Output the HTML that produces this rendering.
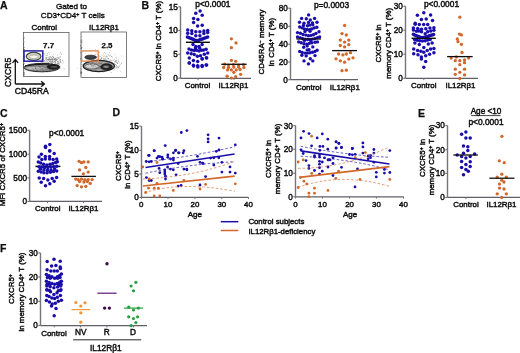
<!DOCTYPE html>
<html><head><meta charset="utf-8"><style>
html,body{margin:0;padding:0;background:#fff;width:520px;height:353px;overflow:hidden}
svg{display:block}
text{font-family:"Liberation Sans", sans-serif;fill:#111;stroke:#111;stroke-width:0.45px}
</style></head><body>
<svg width="520" height="353" viewBox="0 0 520 353">
<defs><filter id="soft" x="0" y="0" width="100%" height="100%"><feGaussianBlur stdDeviation="0.3"/></filter></defs>
<rect width="520" height="353" fill="#fff"/>
<g filter="url(#soft)">
<text x="0" y="8.5" font-size="10.5" text-anchor="start" font-weight="bold"  style="stroke-width:0.25px">A</text>
<text x="71.5" y="8.8" font-size="8.1" text-anchor="middle" font-weight="normal" style="stroke-width:0.4px">Gated to</text>
<text x="72.8" y="18.3" font-size="8.1" text-anchor="middle" font-weight="normal" style="stroke-width:0.4px">CD3<tspan font-size="65%" baseline-shift="45%">+</tspan>CD4<tspan font-size="65%" baseline-shift="45%">+</tspan> T cells</text>
<text x="44.3" y="30.4" font-size="7.9" text-anchor="middle" font-weight="normal" >Control</text>
<text x="104" y="30.4" font-size="7.9" text-anchor="middle" font-weight="normal" >IL12Rβ1</text>
<rect x="23.5" y="32.6" width="45.5" height="43.8" fill="none" stroke="#555" stroke-width="0.75"/>
<rect x="81" y="32" width="45.4" height="45.5" fill="none" stroke="#555" stroke-width="0.75"/>
<text x="48.6" y="47.7" font-size="7.9" text-anchor="middle" font-weight="bold"  style="stroke-width:0.25px">7.7</text>
<text x="107" y="47.7" font-size="7.9" text-anchor="middle" font-weight="bold"  style="stroke-width:0.25px">2.5</text>
<defs><filter id="bl" x="-20%" y="-20%" width="140%" height="140%"><feGaussianBlur stdDeviation="0.6"/></filter></defs>
<g filter="url(#bl)">
<circle cx="50.5" cy="64.5" r="0.4" fill="#444" opacity="0.6"/>
<circle cx="44.9" cy="63.7" r="0.4" fill="#444" opacity="0.6"/>
<circle cx="48.6" cy="59.7" r="0.4" fill="#444" opacity="0.6"/>
<circle cx="60.4" cy="61.0" r="0.4" fill="#444" opacity="0.6"/>
<circle cx="49.8" cy="62.8" r="0.4" fill="#444" opacity="0.6"/>
<circle cx="56.2" cy="60.4" r="0.4" fill="#444" opacity="0.6"/>
<circle cx="53.2" cy="57.4" r="0.4" fill="#444" opacity="0.6"/>
<circle cx="48.0" cy="59.1" r="0.4" fill="#444" opacity="0.6"/>
<circle cx="42.7" cy="55.7" r="0.4" fill="#444" opacity="0.6"/>
<circle cx="41.1" cy="59.7" r="0.4" fill="#444" opacity="0.6"/>
<circle cx="49.1" cy="59.5" r="0.4" fill="#444" opacity="0.6"/>
<circle cx="50.4" cy="56.2" r="0.4" fill="#444" opacity="0.6"/>
<circle cx="49.6" cy="61.3" r="0.4" fill="#444" opacity="0.6"/>
<circle cx="54.1" cy="57.8" r="0.4" fill="#444" opacity="0.6"/>
<circle cx="47.8" cy="54.1" r="0.4" fill="#444" opacity="0.6"/>
<circle cx="47.2" cy="53.5" r="0.4" fill="#444" opacity="0.6"/>
<circle cx="42.2" cy="64.0" r="0.4" fill="#444" opacity="0.6"/>
<circle cx="37.9" cy="63.1" r="0.4" fill="#444" opacity="0.6"/>
<circle cx="51.8" cy="59.5" r="0.4" fill="#444" opacity="0.6"/>
<circle cx="52.5" cy="62.2" r="0.4" fill="#444" opacity="0.6"/>
<circle cx="55.7" cy="59.8" r="0.4" fill="#444" opacity="0.6"/>
<circle cx="46.7" cy="58.6" r="0.4" fill="#444" opacity="0.6"/>
<circle cx="44.6" cy="60.4" r="0.4" fill="#444" opacity="0.6"/>
<circle cx="45.7" cy="63.9" r="0.4" fill="#444" opacity="0.6"/>
<circle cx="39.7" cy="57.0" r="0.4" fill="#444" opacity="0.6"/>
<circle cx="44.8" cy="53.8" r="0.4" fill="#444" opacity="0.6"/>
<circle cx="60.5" cy="52.8" r="0.4" fill="#444" opacity="0.6"/>
<circle cx="48.4" cy="58.8" r="0.4" fill="#444" opacity="0.6"/>
<circle cx="59.1" cy="54.1" r="0.4" fill="#444" opacity="0.6"/>
<circle cx="55.9" cy="58.2" r="0.4" fill="#444" opacity="0.6"/>
<circle cx="49.1" cy="58.4" r="0.4" fill="#444" opacity="0.6"/>
<circle cx="53.5" cy="56.9" r="0.4" fill="#444" opacity="0.6"/>
<circle cx="49.6" cy="61.6" r="0.4" fill="#444" opacity="0.6"/>
<circle cx="60.1" cy="52.8" r="0.4" fill="#444" opacity="0.6"/>
<circle cx="58.4" cy="63.5" r="0.4" fill="#444" opacity="0.6"/>
<circle cx="47.3" cy="61.5" r="0.4" fill="#444" opacity="0.6"/>
<circle cx="47.4" cy="65.8" r="0.4" fill="#444" opacity="0.6"/>
<circle cx="51.2" cy="59.8" r="0.4" fill="#444" opacity="0.6"/>
<circle cx="48.7" cy="59.9" r="0.4" fill="#444" opacity="0.6"/>
<circle cx="49.0" cy="57.7" r="0.4" fill="#444" opacity="0.6"/>
<circle cx="61.3" cy="54.4" r="0.4" fill="#444" opacity="0.6"/>
<circle cx="30.2" cy="60.1" r="0.4" fill="#444" opacity="0.6"/>
<circle cx="49.2" cy="61.7" r="0.4" fill="#444" opacity="0.6"/>
<circle cx="48.9" cy="60.0" r="0.4" fill="#444" opacity="0.6"/>
<circle cx="51.8" cy="63.6" r="0.4" fill="#444" opacity="0.6"/>
<circle cx="47.5" cy="59.3" r="0.4" fill="#444" opacity="0.6"/>
<circle cx="60.7" cy="62.2" r="0.4" fill="#444" opacity="0.6"/>
<circle cx="44.6" cy="67.9" r="0.4" fill="#444" opacity="0.6"/>
<circle cx="54.3" cy="58.6" r="0.4" fill="#444" opacity="0.6"/>
<circle cx="43.5" cy="61.5" r="0.4" fill="#444" opacity="0.6"/>
<circle cx="45.4" cy="57.1" r="0.4" fill="#444" opacity="0.6"/>
<circle cx="42.9" cy="58.9" r="0.4" fill="#444" opacity="0.6"/>
<circle cx="56.1" cy="59.1" r="0.4" fill="#444" opacity="0.6"/>
<circle cx="42.0" cy="62.6" r="0.4" fill="#444" opacity="0.6"/>
<circle cx="50.4" cy="63.2" r="0.4" fill="#444" opacity="0.6"/>
<circle cx="56.6" cy="60.0" r="0.4" fill="#444" opacity="0.6"/>
<circle cx="49.2" cy="60.4" r="0.4" fill="#444" opacity="0.6"/>
<circle cx="43.8" cy="62.6" r="0.4" fill="#444" opacity="0.6"/>
<circle cx="57.5" cy="61.1" r="0.4" fill="#444" opacity="0.6"/>
<circle cx="48.7" cy="59.7" r="0.4" fill="#444" opacity="0.6"/>
<circle cx="45.7" cy="57.9" r="0.4" fill="#444" opacity="0.6"/>
<circle cx="47.8" cy="57.8" r="0.4" fill="#444" opacity="0.6"/>
<circle cx="47.6" cy="55.5" r="0.4" fill="#444" opacity="0.6"/>
<circle cx="51.9" cy="60.7" r="0.4" fill="#444" opacity="0.6"/>
<circle cx="43.7" cy="53.1" r="0.4" fill="#444" opacity="0.6"/>
<circle cx="50.0" cy="64.0" r="0.4" fill="#444" opacity="0.6"/>
<circle cx="46.0" cy="59.0" r="0.4" fill="#444" opacity="0.6"/>
<circle cx="46.9" cy="62.6" r="0.4" fill="#444" opacity="0.6"/>
<circle cx="45.0" cy="63.7" r="0.4" fill="#444" opacity="0.6"/>
<circle cx="48.3" cy="63.5" r="0.4" fill="#444" opacity="0.6"/>
<circle cx="50.2" cy="59.8" r="0.4" fill="#444" opacity="0.6"/>
<circle cx="41.9" cy="58.3" r="0.4" fill="#444" opacity="0.6"/>
<circle cx="48.6" cy="62.6" r="0.4" fill="#444" opacity="0.6"/>
<circle cx="51.3" cy="58.3" r="0.4" fill="#444" opacity="0.6"/>
<circle cx="52.3" cy="63.7" r="0.4" fill="#444" opacity="0.6"/>
<circle cx="49.2" cy="59.1" r="0.4" fill="#444" opacity="0.6"/>
<circle cx="47.8" cy="63.1" r="0.4" fill="#444" opacity="0.6"/>
<circle cx="53.0" cy="57.5" r="0.4" fill="#444" opacity="0.6"/>
<circle cx="52.1" cy="59.0" r="0.4" fill="#444" opacity="0.6"/>
<circle cx="45.9" cy="64.5" r="0.4" fill="#444" opacity="0.6"/>
<circle cx="54.5" cy="58.2" r="0.4" fill="#444" opacity="0.6"/>
<circle cx="50.4" cy="62.1" r="0.4" fill="#444" opacity="0.6"/>
<circle cx="46.5" cy="60.1" r="0.4" fill="#444" opacity="0.6"/>
<circle cx="53.7" cy="54.8" r="0.4" fill="#444" opacity="0.6"/>
<circle cx="51.8" cy="62.9" r="0.4" fill="#444" opacity="0.6"/>
<circle cx="52.8" cy="56.2" r="0.4" fill="#444" opacity="0.6"/>
<circle cx="51.8" cy="57.7" r="0.4" fill="#444" opacity="0.6"/>
<circle cx="53.1" cy="62.4" r="0.4" fill="#444" opacity="0.6"/>
<circle cx="51.2" cy="58.1" r="0.4" fill="#444" opacity="0.6"/>
<circle cx="46.7" cy="63.2" r="0.4" fill="#444" opacity="0.6"/>
<circle cx="45.1" cy="62.1" r="0.4" fill="#444" opacity="0.6"/>
<circle cx="52.8" cy="59.6" r="0.4" fill="#444" opacity="0.6"/>
<circle cx="63.2" cy="60.7" r="0.4" fill="#444" opacity="0.6"/>
<circle cx="61.8" cy="54.0" r="0.4" fill="#444" opacity="0.6"/>
<circle cx="37.7" cy="63.6" r="0.4" fill="#444" opacity="0.6"/>
<circle cx="53.5" cy="59.5" r="0.4" fill="#444" opacity="0.6"/>
<circle cx="49.7" cy="54.4" r="0.4" fill="#444" opacity="0.6"/>
<circle cx="46.5" cy="57.2" r="0.4" fill="#444" opacity="0.6"/>
<circle cx="48.8" cy="63.3" r="0.4" fill="#444" opacity="0.6"/>
<circle cx="50.3" cy="61.7" r="0.4" fill="#444" opacity="0.6"/>
<circle cx="46.2" cy="59.1" r="0.4" fill="#444" opacity="0.6"/>
<circle cx="50.6" cy="59.6" r="0.4" fill="#444" opacity="0.6"/>
<circle cx="57.0" cy="57.7" r="0.4" fill="#444" opacity="0.6"/>
<circle cx="60.4" cy="57.4" r="0.4" fill="#444" opacity="0.6"/>
<circle cx="55.8" cy="58.0" r="0.4" fill="#444" opacity="0.6"/>
<circle cx="59.1" cy="60.9" r="0.4" fill="#444" opacity="0.6"/>
<circle cx="52.2" cy="62.9" r="0.4" fill="#444" opacity="0.6"/>
<circle cx="46.5" cy="57.2" r="0.4" fill="#444" opacity="0.6"/>
<circle cx="38.9" cy="64.4" r="0.4" fill="#444" opacity="0.6"/>
<circle cx="46.2" cy="58.6" r="0.4" fill="#444" opacity="0.6"/>
<circle cx="49.8" cy="66.9" r="0.4" fill="#444" opacity="0.6"/>
<circle cx="40.5" cy="61.3" r="0.4" fill="#444" opacity="0.6"/>
<circle cx="47.8" cy="62.2" r="0.4" fill="#444" opacity="0.6"/>
<circle cx="40.1" cy="59.2" r="0.4" fill="#444" opacity="0.6"/>
<circle cx="54.6" cy="65.5" r="0.4" fill="#444" opacity="0.6"/>
<circle cx="58.8" cy="57.8" r="0.4" fill="#444" opacity="0.6"/>
<circle cx="50.3" cy="60.1" r="0.4" fill="#444" opacity="0.6"/>
<circle cx="42.4" cy="55.9" r="0.4" fill="#444" opacity="0.6"/>
<circle cx="54.2" cy="61.3" r="0.4" fill="#444" opacity="0.6"/>
<circle cx="49.2" cy="64.4" r="0.4" fill="#444" opacity="0.6"/>
<circle cx="44.5" cy="62.2" r="0.4" fill="#444" opacity="0.6"/>
<circle cx="50.1" cy="60.3" r="0.4" fill="#444" opacity="0.6"/>
<circle cx="52.7" cy="61.1" r="0.4" fill="#444" opacity="0.6"/>
<circle cx="51.5" cy="61.3" r="0.4" fill="#444" opacity="0.6"/>
<circle cx="60.7" cy="59.5" r="0.4" fill="#444" opacity="0.6"/>
<circle cx="55.6" cy="62.4" r="0.4" fill="#444" opacity="0.6"/>
<circle cx="48.1" cy="63.0" r="0.4" fill="#444" opacity="0.6"/>
<circle cx="45.3" cy="64.2" r="0.4" fill="#444" opacity="0.6"/>
<circle cx="45.5" cy="58.9" r="0.4" fill="#444" opacity="0.6"/>
<circle cx="51.8" cy="63.2" r="0.4" fill="#444" opacity="0.6"/>
<circle cx="55.0" cy="63.4" r="0.4" fill="#444" opacity="0.6"/>
<circle cx="48.9" cy="57.4" r="0.4" fill="#444" opacity="0.6"/>
<circle cx="53.0" cy="61.5" r="0.4" fill="#444" opacity="0.6"/>
<circle cx="44.8" cy="63.6" r="0.4" fill="#444" opacity="0.6"/>
<circle cx="51.1" cy="57.4" r="0.4" fill="#444" opacity="0.6"/>
<circle cx="52.4" cy="56.3" r="0.4" fill="#444" opacity="0.6"/>
<circle cx="45.2" cy="61.8" r="0.4" fill="#444" opacity="0.6"/>
<circle cx="41.4" cy="60.6" r="0.4" fill="#444" opacity="0.6"/>
<circle cx="42.6" cy="62.9" r="0.4" fill="#444" opacity="0.6"/>
<circle cx="46.0" cy="61.1" r="0.4" fill="#444" opacity="0.6"/>
<circle cx="41.7" cy="59.4" r="0.4" fill="#444" opacity="0.6"/>
<circle cx="55.2" cy="62.0" r="0.4" fill="#444" opacity="0.6"/>
<circle cx="39.9" cy="63.5" r="0.4" fill="#444" opacity="0.6"/>
<circle cx="54.9" cy="59.3" r="0.4" fill="#444" opacity="0.6"/>
<circle cx="57.8" cy="57.1" r="0.4" fill="#444" opacity="0.6"/>
<circle cx="49.5" cy="64.1" r="0.4" fill="#444" opacity="0.6"/>
<circle cx="57.2" cy="64.6" r="0.4" fill="#444" opacity="0.6"/>
<circle cx="44.0" cy="54.8" r="0.4" fill="#444" opacity="0.6"/>
<circle cx="52.2" cy="55.9" r="0.4" fill="#444" opacity="0.6"/>
<circle cx="49.3" cy="56.4" r="0.4" fill="#444" opacity="0.6"/>
<circle cx="55.8" cy="63.1" r="0.4" fill="#444" opacity="0.6"/>
<circle cx="53.1" cy="60.6" r="0.4" fill="#444" opacity="0.6"/>
<circle cx="50.3" cy="59.5" r="0.4" fill="#444" opacity="0.6"/>
<circle cx="52.1" cy="61.3" r="0.4" fill="#444" opacity="0.6"/>
<circle cx="52.5" cy="59.1" r="0.4" fill="#444" opacity="0.6"/>
<circle cx="60.4" cy="61.4" r="0.4" fill="#444" opacity="0.6"/>
<circle cx="57.7" cy="64.8" r="0.4" fill="#444" opacity="0.6"/>
<circle cx="45.2" cy="55.1" r="0.4" fill="#444" opacity="0.6"/>
<circle cx="56.9" cy="59.3" r="0.4" fill="#444" opacity="0.6"/>
<circle cx="50.5" cy="59.7" r="0.4" fill="#444" opacity="0.6"/>
<circle cx="50.7" cy="56.7" r="0.4" fill="#444" opacity="0.6"/>
<circle cx="49.4" cy="59.0" r="0.4" fill="#444" opacity="0.6"/>
<circle cx="49.9" cy="53.0" r="0.4" fill="#444" opacity="0.6"/>
<circle cx="54.5" cy="61.6" r="0.4" fill="#444" opacity="0.6"/>
<circle cx="40.5" cy="58.2" r="0.4" fill="#444" opacity="0.6"/>
<circle cx="50.2" cy="62.5" r="0.4" fill="#444" opacity="0.6"/>
<circle cx="50.0" cy="64.9" r="0.4" fill="#444" opacity="0.6"/>
<circle cx="50.1" cy="57.3" r="0.4" fill="#444" opacity="0.6"/>
<circle cx="46.3" cy="62.9" r="0.4" fill="#444" opacity="0.6"/>
<circle cx="46.6" cy="63.2" r="0.4" fill="#444" opacity="0.6"/>
<circle cx="55.6" cy="62.4" r="0.4" fill="#444" opacity="0.6"/>
<circle cx="55.6" cy="59.9" r="0.4" fill="#444" opacity="0.6"/>
<circle cx="49.9" cy="58.6" r="0.4" fill="#444" opacity="0.6"/>
<circle cx="46.6" cy="55.5" r="0.4" fill="#444" opacity="0.6"/>
<circle cx="46.9" cy="57.1" r="0.4" fill="#444" opacity="0.6"/>
<circle cx="42.1" cy="61.0" r="0.4" fill="#444" opacity="0.6"/>
<circle cx="52.5" cy="59.4" r="0.4" fill="#444" opacity="0.6"/>
<circle cx="57.5" cy="63.5" r="0.4" fill="#444" opacity="0.6"/>
<circle cx="55.7" cy="58.6" r="0.4" fill="#444" opacity="0.6"/>
<circle cx="41.8" cy="62.3" r="0.4" fill="#444" opacity="0.6"/>
<circle cx="51.7" cy="62.8" r="0.4" fill="#444" opacity="0.6"/>
<circle cx="52.3" cy="64.5" r="0.4" fill="#444" opacity="0.6"/>
<circle cx="48.4" cy="62.6" r="0.4" fill="#444" opacity="0.6"/>
<circle cx="45.1" cy="53.1" r="0.4" fill="#444" opacity="0.6"/>
<circle cx="47.6" cy="65.3" r="0.4" fill="#444" opacity="0.6"/>
<circle cx="40.8" cy="63.8" r="0.4" fill="#444" opacity="0.6"/>
<circle cx="46.3" cy="59.2" r="0.4" fill="#444" opacity="0.6"/>
<circle cx="50.2" cy="61.2" r="0.4" fill="#444" opacity="0.6"/>
<circle cx="44.6" cy="60.9" r="0.4" fill="#444" opacity="0.6"/>
<circle cx="52.4" cy="63.2" r="0.4" fill="#444" opacity="0.6"/>
<circle cx="45.9" cy="65.5" r="0.4" fill="#444" opacity="0.6"/>
<circle cx="60.5" cy="68.2" r="0.4" fill="#444" opacity="0.6"/>
<circle cx="42.6" cy="61.1" r="0.4" fill="#444" opacity="0.6"/>
<circle cx="39.8" cy="61.7" r="0.4" fill="#444" opacity="0.6"/>
<circle cx="53.1" cy="56.8" r="0.4" fill="#444" opacity="0.6"/>
<circle cx="41.3" cy="61.1" r="0.4" fill="#444" opacity="0.6"/>
<circle cx="53.5" cy="58.0" r="0.4" fill="#444" opacity="0.6"/>
<circle cx="48.6" cy="52.4" r="0.4" fill="#444" opacity="0.6"/>
<circle cx="46.1" cy="61.0" r="0.4" fill="#444" opacity="0.6"/>
<circle cx="50.8" cy="65.6" r="0.4" fill="#444" opacity="0.6"/>
<circle cx="43.7" cy="53.3" r="0.4" fill="#444" opacity="0.6"/>
<circle cx="52.5" cy="58.6" r="0.4" fill="#444" opacity="0.6"/>
<circle cx="51.6" cy="62.8" r="0.4" fill="#444" opacity="0.6"/>
<circle cx="53.3" cy="65.1" r="0.4" fill="#444" opacity="0.6"/>
<circle cx="57.4" cy="55.2" r="0.4" fill="#444" opacity="0.6"/>
<circle cx="49.7" cy="66.9" r="0.4" fill="#444" opacity="0.6"/>
<circle cx="47.8" cy="63.6" r="0.4" fill="#444" opacity="0.6"/>
<circle cx="49.7" cy="59.2" r="0.4" fill="#444" opacity="0.6"/>
<circle cx="58.7" cy="63.8" r="0.4" fill="#444" opacity="0.6"/>
<circle cx="48.7" cy="63.4" r="0.4" fill="#444" opacity="0.6"/>
<circle cx="42.8" cy="58.2" r="0.4" fill="#444" opacity="0.6"/>
<circle cx="55.0" cy="60.6" r="0.4" fill="#444" opacity="0.6"/>
<circle cx="44.2" cy="61.9" r="0.4" fill="#444" opacity="0.6"/>
<circle cx="51.8" cy="64.6" r="0.4" fill="#444" opacity="0.6"/>
<circle cx="55.3" cy="59.6" r="0.4" fill="#444" opacity="0.6"/>
<circle cx="47.3" cy="60.1" r="0.4" fill="#444" opacity="0.6"/>
<circle cx="48.7" cy="65.2" r="0.4" fill="#444" opacity="0.6"/>
<circle cx="58.7" cy="64.8" r="0.4" fill="#444" opacity="0.6"/>
<circle cx="52.1" cy="59.7" r="0.4" fill="#444" opacity="0.6"/>
<circle cx="55.0" cy="59.4" r="0.4" fill="#444" opacity="0.6"/>
<circle cx="57.9" cy="57.8" r="0.4" fill="#444" opacity="0.6"/>
<circle cx="55.3" cy="65.6" r="0.4" fill="#444" opacity="0.6"/>
<circle cx="52.9" cy="58.3" r="0.4" fill="#444" opacity="0.6"/>
<circle cx="56.3" cy="66.2" r="0.4" fill="#444" opacity="0.6"/>
<circle cx="62.8" cy="61.1" r="0.4" fill="#444" opacity="0.6"/>
<circle cx="55.1" cy="61.7" r="0.4" fill="#444" opacity="0.6"/>
<circle cx="53.3" cy="62.1" r="0.4" fill="#444" opacity="0.6"/>
<circle cx="55.8" cy="58.3" r="0.4" fill="#444" opacity="0.6"/>
<circle cx="54.7" cy="61.4" r="0.4" fill="#444" opacity="0.6"/>
<circle cx="53.6" cy="59.2" r="0.4" fill="#444" opacity="0.6"/>
<circle cx="60.6" cy="66.7" r="0.4" fill="#444" opacity="0.6"/>
<circle cx="55.9" cy="60.9" r="0.4" fill="#444" opacity="0.6"/>
<circle cx="59.0" cy="61.4" r="0.4" fill="#444" opacity="0.6"/>
<circle cx="53.9" cy="65.5" r="0.4" fill="#444" opacity="0.6"/>
<circle cx="52.8" cy="60.2" r="0.4" fill="#444" opacity="0.6"/>
<circle cx="54.3" cy="59.8" r="0.4" fill="#444" opacity="0.6"/>
<circle cx="56.0" cy="63.4" r="0.4" fill="#444" opacity="0.6"/>
<circle cx="62.8" cy="63.7" r="0.4" fill="#444" opacity="0.6"/>
<circle cx="57.1" cy="58.9" r="0.4" fill="#444" opacity="0.6"/>
<circle cx="56.8" cy="59.6" r="0.4" fill="#444" opacity="0.6"/>
<circle cx="56.6" cy="64.4" r="0.4" fill="#444" opacity="0.6"/>
<circle cx="57.8" cy="61.5" r="0.4" fill="#444" opacity="0.6"/>
<circle cx="54.0" cy="61.9" r="0.4" fill="#444" opacity="0.6"/>
<circle cx="57.4" cy="59.7" r="0.4" fill="#444" opacity="0.6"/>
<circle cx="55.0" cy="64.2" r="0.4" fill="#444" opacity="0.6"/>
<circle cx="50.4" cy="60.9" r="0.4" fill="#444" opacity="0.6"/>
<circle cx="52.3" cy="65.9" r="0.4" fill="#444" opacity="0.6"/>
<circle cx="59.4" cy="63.3" r="0.4" fill="#444" opacity="0.6"/>
<circle cx="58.6" cy="62.7" r="0.4" fill="#444" opacity="0.6"/>
<circle cx="58.2" cy="58.0" r="0.4" fill="#444" opacity="0.6"/>
<circle cx="58.0" cy="63.5" r="0.4" fill="#444" opacity="0.6"/>
<circle cx="51.3" cy="64.1" r="0.4" fill="#444" opacity="0.6"/>
<circle cx="59.7" cy="58.2" r="0.4" fill="#444" opacity="0.6"/>
<circle cx="55.1" cy="61.2" r="0.4" fill="#444" opacity="0.6"/>
<circle cx="54.9" cy="63.0" r="0.4" fill="#444" opacity="0.6"/>
<circle cx="51.9" cy="61.4" r="0.4" fill="#444" opacity="0.6"/>
<circle cx="57.9" cy="63.8" r="0.4" fill="#444" opacity="0.6"/>
<circle cx="57.2" cy="61.4" r="0.4" fill="#444" opacity="0.6"/>
<circle cx="59.8" cy="57.0" r="0.4" fill="#444" opacity="0.6"/>
<circle cx="60.7" cy="61.2" r="0.4" fill="#444" opacity="0.6"/>
<circle cx="52.0" cy="60.9" r="0.4" fill="#444" opacity="0.6"/>
<circle cx="49.7" cy="56.9" r="0.4" fill="#444" opacity="0.6"/>
<circle cx="55.7" cy="60.1" r="0.4" fill="#444" opacity="0.6"/>
<circle cx="59.9" cy="59.8" r="0.4" fill="#444" opacity="0.6"/>
<circle cx="51.8" cy="59.6" r="0.4" fill="#444" opacity="0.6"/>
<circle cx="63.9" cy="62.1" r="0.4" fill="#444" opacity="0.6"/>
<circle cx="54.6" cy="59.5" r="0.4" fill="#444" opacity="0.6"/>
<circle cx="52.6" cy="61.6" r="0.4" fill="#444" opacity="0.6"/>
<circle cx="58.7" cy="64.9" r="0.4" fill="#444" opacity="0.6"/>
<circle cx="61.6" cy="62.7" r="0.4" fill="#444" opacity="0.6"/>
<circle cx="54.4" cy="59.8" r="0.4" fill="#444" opacity="0.6"/>
<circle cx="47.7" cy="59.5" r="0.4" fill="#444" opacity="0.6"/>
<circle cx="58.7" cy="61.2" r="0.4" fill="#444" opacity="0.6"/>
<circle cx="58.5" cy="58.6" r="0.4" fill="#444" opacity="0.6"/>
<circle cx="60.6" cy="62.7" r="0.4" fill="#444" opacity="0.6"/>
<circle cx="57.2" cy="63.0" r="0.4" fill="#444" opacity="0.6"/>
<circle cx="48.1" cy="60.6" r="0.4" fill="#444" opacity="0.6"/>
<circle cx="53.4" cy="66.5" r="0.4" fill="#444" opacity="0.6"/>
<circle cx="56.3" cy="60.7" r="0.4" fill="#444" opacity="0.6"/>
<circle cx="60.4" cy="59.4" r="0.4" fill="#444" opacity="0.6"/>
<circle cx="62.7" cy="60.2" r="0.4" fill="#444" opacity="0.6"/>
<circle cx="56.8" cy="59.7" r="0.4" fill="#444" opacity="0.6"/>
<circle cx="60.2" cy="56.6" r="0.4" fill="#444" opacity="0.6"/>
<circle cx="59.8" cy="60.0" r="0.4" fill="#444" opacity="0.6"/>
<circle cx="57.2" cy="59.1" r="0.4" fill="#444" opacity="0.6"/>
<circle cx="57.9" cy="62.5" r="0.4" fill="#444" opacity="0.6"/>
<circle cx="59.4" cy="62.8" r="0.4" fill="#444" opacity="0.6"/>
<circle cx="59.5" cy="64.5" r="0.4" fill="#444" opacity="0.6"/>
<circle cx="55.4" cy="59.1" r="0.4" fill="#444" opacity="0.6"/>
<circle cx="51.9" cy="63.7" r="0.4" fill="#444" opacity="0.6"/>
<ellipse cx="41.8" cy="67.6" rx="17.9" ry="4.2" fill="#8a8a8a" stroke="#2a2a2a" stroke-width="1"/>
<path d="M25,65.8 Q38,63.6 49,64.2" stroke="#1a1a1a" stroke-width="1.2" fill="none"/>
<ellipse cx="36" cy="68.3" rx="10.5" ry="1.5" fill="#bdbdbd"/>
<ellipse cx="53.3" cy="66.8" rx="6.6" ry="2.9" fill="#1a1a1a"/>
<ellipse cx="54" cy="66.9" rx="3.6" ry="0.7" fill="#6a6a6a"/>
<ellipse cx="33.6" cy="56.4" rx="7.3" ry="4" fill="#d6dac4" stroke="#4a4a52" stroke-width="1.3"/>
<ellipse cx="33.8" cy="56.8" rx="4.4" ry="1.9" fill="#f4f6ee" stroke="#8a8a70" stroke-width="0.6"/>
<circle cx="37.6" cy="70.1" r="0.4" fill="#333" opacity="0.5"/>
<circle cx="41.4" cy="66.0" r="0.4" fill="#333" opacity="0.5"/>
<circle cx="49.1" cy="71.9" r="0.4" fill="#333" opacity="0.5"/>
<circle cx="39.4" cy="66.1" r="0.4" fill="#333" opacity="0.5"/>
<circle cx="33.4" cy="69.8" r="0.4" fill="#333" opacity="0.5"/>
<circle cx="35.7" cy="67.2" r="0.4" fill="#333" opacity="0.5"/>
<circle cx="47.2" cy="68.0" r="0.4" fill="#333" opacity="0.5"/>
<circle cx="42.0" cy="66.9" r="0.4" fill="#333" opacity="0.5"/>
<circle cx="35.3" cy="68.3" r="0.4" fill="#333" opacity="0.5"/>
<circle cx="42.4" cy="69.2" r="0.4" fill="#333" opacity="0.5"/>
<circle cx="36.5" cy="68.7" r="0.4" fill="#333" opacity="0.5"/>
<circle cx="45.3" cy="68.2" r="0.4" fill="#333" opacity="0.5"/>
<circle cx="46.1" cy="70.0" r="0.4" fill="#333" opacity="0.5"/>
<circle cx="42.8" cy="68.2" r="0.4" fill="#333" opacity="0.5"/>
<circle cx="32.3" cy="68.7" r="0.4" fill="#333" opacity="0.5"/>
<circle cx="40.2" cy="67.4" r="0.4" fill="#333" opacity="0.5"/>
<circle cx="33.6" cy="69.1" r="0.4" fill="#333" opacity="0.5"/>
<circle cx="64.0" cy="68.9" r="0.4" fill="#333" opacity="0.5"/>
<circle cx="41.8" cy="68.9" r="0.4" fill="#333" opacity="0.5"/>
<circle cx="35.7" cy="68.2" r="0.4" fill="#333" opacity="0.5"/>
<circle cx="35.0" cy="66.7" r="0.4" fill="#333" opacity="0.5"/>
<circle cx="43.1" cy="68.5" r="0.4" fill="#333" opacity="0.5"/>
<circle cx="40.0" cy="66.4" r="0.4" fill="#333" opacity="0.5"/>
<circle cx="43.4" cy="65.8" r="0.4" fill="#333" opacity="0.5"/>
<circle cx="47.9" cy="67.3" r="0.4" fill="#333" opacity="0.5"/>
<circle cx="41.0" cy="69.6" r="0.4" fill="#333" opacity="0.5"/>
<circle cx="46.0" cy="65.4" r="0.4" fill="#333" opacity="0.5"/>
<circle cx="38.8" cy="68.7" r="0.4" fill="#333" opacity="0.5"/>
<circle cx="31.2" cy="63.2" r="0.4" fill="#333" opacity="0.5"/>
<circle cx="40.4" cy="67.9" r="0.4" fill="#333" opacity="0.5"/>
<circle cx="44.9" cy="68.2" r="0.4" fill="#333" opacity="0.5"/>
<circle cx="42.2" cy="68.5" r="0.4" fill="#333" opacity="0.5"/>
<circle cx="53.4" cy="69.0" r="0.4" fill="#333" opacity="0.5"/>
<circle cx="45.9" cy="67.2" r="0.4" fill="#333" opacity="0.5"/>
<circle cx="51.1" cy="67.6" r="0.4" fill="#333" opacity="0.5"/>
<circle cx="47.6" cy="63.8" r="0.4" fill="#333" opacity="0.5"/>
<circle cx="43.2" cy="67.8" r="0.4" fill="#333" opacity="0.5"/>
<circle cx="36.9" cy="70.6" r="0.4" fill="#333" opacity="0.5"/>
<circle cx="44.6" cy="67.7" r="0.4" fill="#333" opacity="0.5"/>
<circle cx="36.3" cy="71.8" r="0.4" fill="#333" opacity="0.5"/>
<circle cx="47.7" cy="69.3" r="0.4" fill="#333" opacity="0.5"/>
<circle cx="34.1" cy="70.6" r="0.4" fill="#333" opacity="0.5"/>
<circle cx="46.0" cy="67.5" r="0.4" fill="#333" opacity="0.5"/>
<circle cx="40.1" cy="64.8" r="0.4" fill="#333" opacity="0.5"/>
<circle cx="46.9" cy="65.8" r="0.4" fill="#333" opacity="0.5"/>
<circle cx="48.6" cy="67.1" r="0.4" fill="#333" opacity="0.5"/>
<circle cx="35.4" cy="68.7" r="0.4" fill="#333" opacity="0.5"/>
<circle cx="42.9" cy="65.7" r="0.4" fill="#333" opacity="0.5"/>
<circle cx="40.3" cy="69.2" r="0.4" fill="#333" opacity="0.5"/>
<circle cx="38.7" cy="65.3" r="0.4" fill="#333" opacity="0.5"/>
<circle cx="38.8" cy="66.1" r="0.4" fill="#333" opacity="0.5"/>
<circle cx="35.8" cy="68.1" r="0.4" fill="#333" opacity="0.5"/>
<circle cx="40.5" cy="67.6" r="0.4" fill="#333" opacity="0.5"/>
<circle cx="26.2" cy="68.7" r="0.4" fill="#333" opacity="0.5"/>
<circle cx="39.2" cy="67.2" r="0.4" fill="#333" opacity="0.5"/>
<circle cx="42.4" cy="71.8" r="0.4" fill="#333" opacity="0.5"/>
<circle cx="29.4" cy="64.8" r="0.4" fill="#333" opacity="0.5"/>
<circle cx="47.8" cy="66.4" r="0.4" fill="#333" opacity="0.5"/>
<circle cx="52.7" cy="66.0" r="0.4" fill="#333" opacity="0.5"/>
<circle cx="36.7" cy="69.7" r="0.4" fill="#333" opacity="0.5"/>
<circle cx="49.2" cy="68.9" r="0.4" fill="#333" opacity="0.5"/>
<circle cx="45.1" cy="67.7" r="0.4" fill="#333" opacity="0.5"/>
<circle cx="37.1" cy="67.6" r="0.4" fill="#333" opacity="0.5"/>
<circle cx="52.4" cy="69.4" r="0.4" fill="#333" opacity="0.5"/>
<circle cx="41.2" cy="68.6" r="0.4" fill="#333" opacity="0.5"/>
<circle cx="48.4" cy="70.4" r="0.4" fill="#333" opacity="0.5"/>
<circle cx="39.8" cy="67.8" r="0.4" fill="#333" opacity="0.5"/>
<circle cx="44.0" cy="73.2" r="0.4" fill="#333" opacity="0.5"/>
<circle cx="43.2" cy="70.5" r="0.4" fill="#333" opacity="0.5"/>
<circle cx="27.3" cy="69.7" r="0.4" fill="#333" opacity="0.5"/>
<circle cx="28.4" cy="65.9" r="0.4" fill="#333" opacity="0.5"/>
<circle cx="35.3" cy="67.7" r="0.4" fill="#333" opacity="0.5"/>
<circle cx="42.6" cy="68.7" r="0.4" fill="#333" opacity="0.5"/>
<circle cx="43.0" cy="67.1" r="0.4" fill="#333" opacity="0.5"/>
<circle cx="64.2" cy="68.8" r="0.4" fill="#333" opacity="0.5"/>
<circle cx="47.0" cy="72.0" r="0.4" fill="#333" opacity="0.5"/>
<circle cx="49.6" cy="69.1" r="0.4" fill="#333" opacity="0.5"/>
<circle cx="43.9" cy="71.7" r="0.4" fill="#333" opacity="0.5"/>
<circle cx="31.3" cy="66.1" r="0.4" fill="#333" opacity="0.5"/>
<circle cx="42.3" cy="64.0" r="0.4" fill="#333" opacity="0.5"/>
<circle cx="24.0" cy="49.5" r="0.45" fill="#222" opacity="0.7"/>
<circle cx="23.4" cy="53.4" r="0.45" fill="#222" opacity="0.7"/>
<circle cx="24.0" cy="68.6" r="0.45" fill="#222" opacity="0.7"/>
<circle cx="23.5" cy="67.8" r="0.45" fill="#222" opacity="0.7"/>
<circle cx="23.8" cy="57.0" r="0.45" fill="#222" opacity="0.7"/>
<circle cx="23.3" cy="64.4" r="0.45" fill="#222" opacity="0.7"/>
<circle cx="23.9" cy="49.5" r="0.45" fill="#222" opacity="0.7"/>
<circle cx="24.0" cy="38.8" r="0.45" fill="#222" opacity="0.7"/>
<circle cx="23.8" cy="64.7" r="0.45" fill="#222" opacity="0.7"/>
<circle cx="24.0" cy="61.3" r="0.45" fill="#222" opacity="0.7"/>
<circle cx="23.7" cy="44.4" r="0.45" fill="#222" opacity="0.7"/>
<circle cx="23.7" cy="74.8" r="0.45" fill="#222" opacity="0.7"/>
<circle cx="23.3" cy="52.8" r="0.45" fill="#222" opacity="0.7"/>
<circle cx="23.4" cy="44.5" r="0.45" fill="#222" opacity="0.7"/>
<circle cx="24.2" cy="72.3" r="0.45" fill="#222" opacity="0.7"/>
<circle cx="24.6" cy="70.1" r="0.45" fill="#222" opacity="0.7"/>
<circle cx="24.5" cy="59.9" r="0.45" fill="#222" opacity="0.7"/>
<circle cx="23.8" cy="56.9" r="0.45" fill="#222" opacity="0.7"/>
<circle cx="24.5" cy="73.0" r="0.45" fill="#222" opacity="0.7"/>
<circle cx="23.9" cy="73.0" r="0.45" fill="#222" opacity="0.7"/>
<circle cx="23.8" cy="66.2" r="0.45" fill="#222" opacity="0.7"/>
<circle cx="24.5" cy="74.9" r="0.45" fill="#222" opacity="0.7"/>
<circle cx="24.5" cy="47.4" r="0.45" fill="#222" opacity="0.7"/>
<circle cx="23.3" cy="43.2" r="0.45" fill="#222" opacity="0.7"/>
<circle cx="23.6" cy="64.2" r="0.45" fill="#222" opacity="0.7"/>
<circle cx="24.1" cy="56.3" r="0.45" fill="#222" opacity="0.7"/>
<circle cx="24.2" cy="37.6" r="0.45" fill="#222" opacity="0.7"/>
<circle cx="23.8" cy="46.8" r="0.45" fill="#222" opacity="0.7"/>
<circle cx="24.2" cy="49.4" r="0.45" fill="#222" opacity="0.7"/>
<circle cx="23.6" cy="65.1" r="0.45" fill="#222" opacity="0.7"/>
<circle cx="23.6" cy="40.0" r="0.45" fill="#222" opacity="0.7"/>
<circle cx="23.3" cy="52.0" r="0.45" fill="#222" opacity="0.7"/>
<circle cx="24.3" cy="42.0" r="0.45" fill="#222" opacity="0.7"/>
<circle cx="24.6" cy="63.3" r="0.45" fill="#222" opacity="0.7"/>
<circle cx="24.4" cy="74.2" r="0.45" fill="#222" opacity="0.7"/>
<circle cx="23.4" cy="50.5" r="0.45" fill="#222" opacity="0.7"/>
<circle cx="23.8" cy="48.2" r="0.45" fill="#222" opacity="0.7"/>
<circle cx="24.0" cy="56.5" r="0.45" fill="#222" opacity="0.7"/>
<circle cx="24.4" cy="50.0" r="0.45" fill="#222" opacity="0.7"/>
<circle cx="23.8" cy="47.1" r="0.45" fill="#222" opacity="0.7"/>
<circle cx="111.2" cy="56.3" r="0.4" fill="#444" opacity="0.7"/>
<circle cx="101.7" cy="63.9" r="0.4" fill="#444" opacity="0.7"/>
<circle cx="103.3" cy="60.5" r="0.4" fill="#444" opacity="0.7"/>
<circle cx="108.0" cy="64.6" r="0.4" fill="#444" opacity="0.7"/>
<circle cx="99.5" cy="60.5" r="0.4" fill="#444" opacity="0.7"/>
<circle cx="106.9" cy="61.8" r="0.4" fill="#444" opacity="0.7"/>
<circle cx="103.8" cy="56.6" r="0.4" fill="#444" opacity="0.7"/>
<circle cx="113.4" cy="60.1" r="0.4" fill="#444" opacity="0.7"/>
<circle cx="104.6" cy="60.9" r="0.4" fill="#444" opacity="0.7"/>
<circle cx="103.4" cy="61.6" r="0.4" fill="#444" opacity="0.7"/>
<circle cx="98.0" cy="62.5" r="0.4" fill="#444" opacity="0.7"/>
<circle cx="110.2" cy="62.6" r="0.4" fill="#444" opacity="0.7"/>
<circle cx="107.3" cy="62.9" r="0.4" fill="#444" opacity="0.7"/>
<circle cx="103.2" cy="68.2" r="0.4" fill="#444" opacity="0.7"/>
<circle cx="98.9" cy="62.5" r="0.4" fill="#444" opacity="0.7"/>
<circle cx="109.1" cy="62.2" r="0.4" fill="#444" opacity="0.7"/>
<circle cx="96.7" cy="56.7" r="0.4" fill="#444" opacity="0.7"/>
<circle cx="112.3" cy="57.2" r="0.4" fill="#444" opacity="0.7"/>
<circle cx="103.1" cy="63.2" r="0.4" fill="#444" opacity="0.7"/>
<circle cx="103.6" cy="53.9" r="0.4" fill="#444" opacity="0.7"/>
<circle cx="91.7" cy="60.6" r="0.4" fill="#444" opacity="0.7"/>
<circle cx="98.4" cy="60.0" r="0.4" fill="#444" opacity="0.7"/>
<circle cx="103.5" cy="61.6" r="0.4" fill="#444" opacity="0.7"/>
<circle cx="95.0" cy="54.3" r="0.4" fill="#444" opacity="0.7"/>
<circle cx="108.6" cy="58.5" r="0.4" fill="#444" opacity="0.7"/>
<circle cx="96.0" cy="53.1" r="0.4" fill="#444" opacity="0.7"/>
<circle cx="106.2" cy="56.0" r="0.4" fill="#444" opacity="0.7"/>
<circle cx="96.8" cy="63.5" r="0.4" fill="#444" opacity="0.7"/>
<circle cx="104.8" cy="63.2" r="0.4" fill="#444" opacity="0.7"/>
<circle cx="95.5" cy="49.6" r="0.4" fill="#444" opacity="0.7"/>
<circle cx="97.1" cy="59.8" r="0.4" fill="#444" opacity="0.7"/>
<circle cx="99.1" cy="64.5" r="0.4" fill="#444" opacity="0.7"/>
<circle cx="105.2" cy="56.9" r="0.4" fill="#444" opacity="0.7"/>
<circle cx="106.4" cy="60.4" r="0.4" fill="#444" opacity="0.7"/>
<circle cx="100.1" cy="65.5" r="0.4" fill="#444" opacity="0.7"/>
<circle cx="93.0" cy="65.1" r="0.4" fill="#444" opacity="0.7"/>
<circle cx="109.5" cy="52.8" r="0.4" fill="#444" opacity="0.7"/>
<circle cx="101.9" cy="60.4" r="0.4" fill="#444" opacity="0.7"/>
<circle cx="96.2" cy="58.7" r="0.4" fill="#444" opacity="0.7"/>
<circle cx="98.2" cy="61.3" r="0.4" fill="#444" opacity="0.7"/>
<circle cx="99.7" cy="52.5" r="0.4" fill="#444" opacity="0.7"/>
<circle cx="110.1" cy="64.6" r="0.4" fill="#444" opacity="0.7"/>
<circle cx="98.0" cy="64.5" r="0.4" fill="#444" opacity="0.7"/>
<circle cx="115.1" cy="54.8" r="0.4" fill="#444" opacity="0.7"/>
<circle cx="100.5" cy="58.9" r="0.4" fill="#444" opacity="0.7"/>
<circle cx="106.3" cy="59.8" r="0.4" fill="#444" opacity="0.7"/>
<circle cx="94.6" cy="66.0" r="0.4" fill="#444" opacity="0.7"/>
<circle cx="101.1" cy="63.9" r="0.4" fill="#444" opacity="0.7"/>
<circle cx="116.7" cy="58.0" r="0.4" fill="#444" opacity="0.7"/>
<circle cx="100.5" cy="64.6" r="0.4" fill="#444" opacity="0.7"/>
<circle cx="102.4" cy="63.1" r="0.4" fill="#444" opacity="0.7"/>
<circle cx="103.0" cy="72.2" r="0.4" fill="#444" opacity="0.7"/>
<circle cx="106.8" cy="62.4" r="0.4" fill="#444" opacity="0.7"/>
<circle cx="103.8" cy="62.5" r="0.4" fill="#444" opacity="0.7"/>
<circle cx="93.2" cy="59.9" r="0.4" fill="#444" opacity="0.7"/>
<circle cx="107.5" cy="56.2" r="0.4" fill="#444" opacity="0.7"/>
<circle cx="103.3" cy="60.6" r="0.4" fill="#444" opacity="0.7"/>
<circle cx="99.9" cy="71.0" r="0.4" fill="#444" opacity="0.7"/>
<circle cx="107.3" cy="62.3" r="0.4" fill="#444" opacity="0.7"/>
<circle cx="98.3" cy="61.3" r="0.4" fill="#444" opacity="0.7"/>
<circle cx="101.2" cy="60.6" r="0.4" fill="#444" opacity="0.7"/>
<circle cx="104.3" cy="71.0" r="0.4" fill="#444" opacity="0.7"/>
<circle cx="111.0" cy="67.8" r="0.4" fill="#444" opacity="0.7"/>
<circle cx="111.2" cy="72.3" r="0.4" fill="#444" opacity="0.7"/>
<circle cx="99.0" cy="55.9" r="0.4" fill="#444" opacity="0.7"/>
<circle cx="104.3" cy="62.0" r="0.4" fill="#444" opacity="0.7"/>
<circle cx="103.2" cy="58.5" r="0.4" fill="#444" opacity="0.7"/>
<circle cx="107.1" cy="67.9" r="0.4" fill="#444" opacity="0.7"/>
<circle cx="104.3" cy="60.1" r="0.4" fill="#444" opacity="0.7"/>
<circle cx="110.2" cy="59.8" r="0.4" fill="#444" opacity="0.7"/>
<circle cx="100.9" cy="62.3" r="0.4" fill="#444" opacity="0.7"/>
<circle cx="89.3" cy="68.6" r="0.4" fill="#444" opacity="0.7"/>
<circle cx="102.4" cy="63.1" r="0.4" fill="#444" opacity="0.7"/>
<circle cx="104.9" cy="62.6" r="0.4" fill="#444" opacity="0.7"/>
<circle cx="95.0" cy="68.1" r="0.4" fill="#444" opacity="0.7"/>
<circle cx="106.5" cy="62.2" r="0.4" fill="#444" opacity="0.7"/>
<circle cx="121.9" cy="55.9" r="0.4" fill="#444" opacity="0.7"/>
<circle cx="107.5" cy="60.6" r="0.4" fill="#444" opacity="0.7"/>
<circle cx="94.0" cy="68.8" r="0.4" fill="#444" opacity="0.7"/>
<circle cx="93.7" cy="61.6" r="0.4" fill="#444" opacity="0.7"/>
<circle cx="102.5" cy="61.8" r="0.4" fill="#444" opacity="0.7"/>
<circle cx="97.4" cy="66.5" r="0.4" fill="#444" opacity="0.7"/>
<circle cx="104.6" cy="55.9" r="0.4" fill="#444" opacity="0.7"/>
<circle cx="95.7" cy="62.1" r="0.4" fill="#444" opacity="0.7"/>
<circle cx="96.1" cy="62.8" r="0.4" fill="#444" opacity="0.7"/>
<circle cx="105.0" cy="58.7" r="0.4" fill="#444" opacity="0.7"/>
<circle cx="91.4" cy="55.8" r="0.4" fill="#444" opacity="0.7"/>
<circle cx="105.2" cy="58.9" r="0.4" fill="#444" opacity="0.7"/>
<circle cx="114.2" cy="59.3" r="0.4" fill="#444" opacity="0.7"/>
<circle cx="105.3" cy="63.7" r="0.4" fill="#444" opacity="0.7"/>
<circle cx="103.6" cy="62.3" r="0.4" fill="#444" opacity="0.7"/>
<circle cx="109.1" cy="60.4" r="0.4" fill="#444" opacity="0.7"/>
<circle cx="105.1" cy="59.6" r="0.4" fill="#444" opacity="0.7"/>
<circle cx="115.1" cy="61.7" r="0.4" fill="#444" opacity="0.7"/>
<circle cx="108.1" cy="49.1" r="0.4" fill="#444" opacity="0.7"/>
<circle cx="100.1" cy="56.5" r="0.4" fill="#444" opacity="0.7"/>
<circle cx="103.3" cy="59.2" r="0.4" fill="#444" opacity="0.7"/>
<circle cx="96.7" cy="59.9" r="0.4" fill="#444" opacity="0.7"/>
<circle cx="107.9" cy="65.3" r="0.4" fill="#444" opacity="0.7"/>
<circle cx="99.8" cy="65.3" r="0.4" fill="#444" opacity="0.7"/>
<circle cx="99.3" cy="63.5" r="0.4" fill="#444" opacity="0.7"/>
<circle cx="97.9" cy="65.2" r="0.4" fill="#444" opacity="0.7"/>
<circle cx="117.0" cy="59.9" r="0.4" fill="#444" opacity="0.7"/>
<circle cx="110.4" cy="55.2" r="0.4" fill="#444" opacity="0.7"/>
<circle cx="99.2" cy="71.7" r="0.4" fill="#444" opacity="0.7"/>
<circle cx="102.6" cy="63.0" r="0.4" fill="#444" opacity="0.7"/>
<circle cx="93.3" cy="61.0" r="0.4" fill="#444" opacity="0.7"/>
<circle cx="98.3" cy="65.8" r="0.4" fill="#444" opacity="0.7"/>
<circle cx="99.8" cy="71.2" r="0.4" fill="#444" opacity="0.7"/>
<circle cx="96.5" cy="62.3" r="0.4" fill="#444" opacity="0.7"/>
<circle cx="91.0" cy="59.4" r="0.4" fill="#444" opacity="0.7"/>
<circle cx="110.3" cy="60.6" r="0.4" fill="#444" opacity="0.7"/>
<circle cx="95.2" cy="63.0" r="0.4" fill="#444" opacity="0.7"/>
<circle cx="108.7" cy="62.8" r="0.4" fill="#444" opacity="0.7"/>
<circle cx="109.0" cy="55.3" r="0.4" fill="#444" opacity="0.7"/>
<circle cx="114.0" cy="63.9" r="0.4" fill="#444" opacity="0.7"/>
<circle cx="90.4" cy="68.5" r="0.4" fill="#444" opacity="0.7"/>
<circle cx="100.2" cy="63.1" r="0.4" fill="#444" opacity="0.7"/>
<circle cx="91.1" cy="58.5" r="0.4" fill="#444" opacity="0.7"/>
<circle cx="92.1" cy="64.4" r="0.4" fill="#444" opacity="0.7"/>
<circle cx="101.6" cy="57.3" r="0.4" fill="#444" opacity="0.7"/>
<circle cx="100.8" cy="65.5" r="0.4" fill="#444" opacity="0.7"/>
<circle cx="98.3" cy="63.3" r="0.4" fill="#444" opacity="0.7"/>
<circle cx="95.9" cy="54.3" r="0.4" fill="#444" opacity="0.7"/>
<circle cx="100.1" cy="59.9" r="0.4" fill="#444" opacity="0.7"/>
<circle cx="104.1" cy="64.8" r="0.4" fill="#444" opacity="0.7"/>
<circle cx="100.5" cy="59.6" r="0.4" fill="#444" opacity="0.7"/>
<circle cx="107.6" cy="62.7" r="0.4" fill="#444" opacity="0.7"/>
<circle cx="102.7" cy="62.0" r="0.4" fill="#444" opacity="0.7"/>
<circle cx="89.9" cy="58.8" r="0.4" fill="#444" opacity="0.7"/>
<circle cx="93.4" cy="59.6" r="0.4" fill="#444" opacity="0.7"/>
<circle cx="108.4" cy="54.3" r="0.4" fill="#444" opacity="0.7"/>
<circle cx="108.5" cy="58.8" r="0.4" fill="#444" opacity="0.7"/>
<circle cx="101.7" cy="59.2" r="0.4" fill="#444" opacity="0.7"/>
<circle cx="107.3" cy="58.3" r="0.4" fill="#444" opacity="0.7"/>
<circle cx="90.5" cy="62.3" r="0.4" fill="#444" opacity="0.7"/>
<circle cx="102.1" cy="63.5" r="0.4" fill="#444" opacity="0.7"/>
<circle cx="106.6" cy="56.2" r="0.4" fill="#444" opacity="0.7"/>
<circle cx="104.2" cy="61.5" r="0.4" fill="#444" opacity="0.7"/>
<circle cx="102.6" cy="61.4" r="0.4" fill="#444" opacity="0.7"/>
<circle cx="104.9" cy="58.8" r="0.4" fill="#444" opacity="0.7"/>
<circle cx="102.1" cy="64.9" r="0.4" fill="#444" opacity="0.7"/>
<circle cx="96.6" cy="60.7" r="0.4" fill="#444" opacity="0.7"/>
<circle cx="96.9" cy="56.8" r="0.4" fill="#444" opacity="0.7"/>
<circle cx="100.5" cy="61.7" r="0.4" fill="#444" opacity="0.7"/>
<circle cx="112.1" cy="60.2" r="0.4" fill="#444" opacity="0.7"/>
<circle cx="108.6" cy="63.2" r="0.4" fill="#444" opacity="0.7"/>
<circle cx="103.4" cy="48.6" r="0.4" fill="#444" opacity="0.7"/>
<circle cx="103.8" cy="61.2" r="0.4" fill="#444" opacity="0.7"/>
<circle cx="96.8" cy="61.5" r="0.4" fill="#444" opacity="0.7"/>
<circle cx="111.8" cy="56.4" r="0.4" fill="#444" opacity="0.7"/>
<circle cx="99.9" cy="64.6" r="0.4" fill="#444" opacity="0.7"/>
<circle cx="92.2" cy="56.9" r="0.4" fill="#444" opacity="0.7"/>
<circle cx="104.8" cy="64.8" r="0.4" fill="#444" opacity="0.7"/>
<circle cx="110.3" cy="64.0" r="0.4" fill="#444" opacity="0.7"/>
<circle cx="116.8" cy="62.6" r="0.4" fill="#444" opacity="0.7"/>
<circle cx="95.2" cy="60.2" r="0.4" fill="#444" opacity="0.7"/>
<circle cx="106.8" cy="62.5" r="0.4" fill="#444" opacity="0.7"/>
<circle cx="91.4" cy="62.5" r="0.4" fill="#444" opacity="0.7"/>
<circle cx="98.2" cy="60.2" r="0.4" fill="#444" opacity="0.7"/>
<circle cx="111.8" cy="60.3" r="0.4" fill="#444" opacity="0.7"/>
<circle cx="99.0" cy="60.5" r="0.4" fill="#444" opacity="0.7"/>
<circle cx="99.1" cy="69.2" r="0.4" fill="#444" opacity="0.7"/>
<circle cx="108.0" cy="64.7" r="0.4" fill="#444" opacity="0.7"/>
<circle cx="98.9" cy="58.4" r="0.4" fill="#444" opacity="0.7"/>
<circle cx="104.5" cy="52.3" r="0.4" fill="#444" opacity="0.7"/>
<circle cx="109.1" cy="55.9" r="0.4" fill="#444" opacity="0.7"/>
<circle cx="103.6" cy="62.3" r="0.4" fill="#444" opacity="0.7"/>
<circle cx="98.3" cy="62.4" r="0.4" fill="#444" opacity="0.7"/>
<circle cx="107.2" cy="68.6" r="0.4" fill="#444" opacity="0.7"/>
<circle cx="105.4" cy="68.3" r="0.4" fill="#444" opacity="0.7"/>
<circle cx="105.8" cy="60.2" r="0.4" fill="#444" opacity="0.7"/>
<circle cx="108.2" cy="58.9" r="0.4" fill="#444" opacity="0.7"/>
<circle cx="103.9" cy="63.5" r="0.4" fill="#444" opacity="0.7"/>
<circle cx="109.9" cy="62.1" r="0.4" fill="#444" opacity="0.7"/>
<circle cx="94.2" cy="66.2" r="0.4" fill="#444" opacity="0.7"/>
<circle cx="104.0" cy="59.8" r="0.4" fill="#444" opacity="0.7"/>
<circle cx="98.2" cy="63.3" r="0.4" fill="#444" opacity="0.7"/>
<circle cx="105.0" cy="63.7" r="0.4" fill="#444" opacity="0.7"/>
<circle cx="102.2" cy="67.1" r="0.4" fill="#444" opacity="0.7"/>
<circle cx="101.4" cy="62.6" r="0.4" fill="#444" opacity="0.7"/>
<circle cx="104.2" cy="65.2" r="0.4" fill="#444" opacity="0.7"/>
<circle cx="98.9" cy="59.8" r="0.4" fill="#444" opacity="0.7"/>
<circle cx="101.7" cy="58.4" r="0.4" fill="#444" opacity="0.7"/>
<circle cx="99.1" cy="56.2" r="0.4" fill="#444" opacity="0.7"/>
<circle cx="107.5" cy="67.0" r="0.4" fill="#444" opacity="0.7"/>
<circle cx="97.1" cy="64.1" r="0.4" fill="#444" opacity="0.7"/>
<circle cx="96.1" cy="57.8" r="0.4" fill="#444" opacity="0.7"/>
<circle cx="101.1" cy="61.5" r="0.4" fill="#444" opacity="0.7"/>
<circle cx="105.7" cy="53.3" r="0.4" fill="#444" opacity="0.7"/>
<circle cx="95.1" cy="61.3" r="0.4" fill="#444" opacity="0.7"/>
<circle cx="101.5" cy="69.5" r="0.4" fill="#444" opacity="0.7"/>
<circle cx="101.3" cy="58.4" r="0.4" fill="#444" opacity="0.7"/>
<circle cx="110.2" cy="50.3" r="0.4" fill="#444" opacity="0.7"/>
<circle cx="91.8" cy="71.8" r="0.4" fill="#444" opacity="0.7"/>
<circle cx="99.3" cy="61.3" r="0.4" fill="#444" opacity="0.7"/>
<circle cx="101.9" cy="57.4" r="0.4" fill="#444" opacity="0.7"/>
<circle cx="102.1" cy="55.7" r="0.4" fill="#444" opacity="0.7"/>
<circle cx="108.7" cy="64.1" r="0.4" fill="#444" opacity="0.7"/>
<circle cx="107.0" cy="57.3" r="0.4" fill="#444" opacity="0.7"/>
<circle cx="110.2" cy="62.5" r="0.4" fill="#444" opacity="0.6"/>
<circle cx="112.7" cy="65.1" r="0.4" fill="#444" opacity="0.6"/>
<circle cx="111.1" cy="61.2" r="0.4" fill="#444" opacity="0.6"/>
<circle cx="116.4" cy="65.3" r="0.4" fill="#444" opacity="0.6"/>
<circle cx="116.3" cy="60.2" r="0.4" fill="#444" opacity="0.6"/>
<circle cx="113.9" cy="70.0" r="0.4" fill="#444" opacity="0.6"/>
<circle cx="118.8" cy="61.5" r="0.4" fill="#444" opacity="0.6"/>
<circle cx="121.7" cy="63.6" r="0.4" fill="#444" opacity="0.6"/>
<circle cx="116.0" cy="61.5" r="0.4" fill="#444" opacity="0.6"/>
<circle cx="120.5" cy="64.3" r="0.4" fill="#444" opacity="0.6"/>
<circle cx="115.7" cy="61.2" r="0.4" fill="#444" opacity="0.6"/>
<circle cx="112.2" cy="64.5" r="0.4" fill="#444" opacity="0.6"/>
<circle cx="116.0" cy="68.6" r="0.4" fill="#444" opacity="0.6"/>
<circle cx="113.3" cy="62.9" r="0.4" fill="#444" opacity="0.6"/>
<circle cx="118.9" cy="66.4" r="0.4" fill="#444" opacity="0.6"/>
<circle cx="114.0" cy="68.4" r="0.4" fill="#444" opacity="0.6"/>
<circle cx="117.4" cy="66.7" r="0.4" fill="#444" opacity="0.6"/>
<circle cx="117.0" cy="66.9" r="0.4" fill="#444" opacity="0.6"/>
<circle cx="114.7" cy="63.3" r="0.4" fill="#444" opacity="0.6"/>
<circle cx="119.2" cy="65.2" r="0.4" fill="#444" opacity="0.6"/>
<circle cx="117.1" cy="67.4" r="0.4" fill="#444" opacity="0.6"/>
<circle cx="116.7" cy="65.2" r="0.4" fill="#444" opacity="0.6"/>
<circle cx="109.4" cy="62.4" r="0.4" fill="#444" opacity="0.6"/>
<circle cx="118.4" cy="61.3" r="0.4" fill="#444" opacity="0.6"/>
<circle cx="115.1" cy="64.7" r="0.4" fill="#444" opacity="0.6"/>
<circle cx="115.6" cy="66.6" r="0.4" fill="#444" opacity="0.6"/>
<circle cx="117.4" cy="63.5" r="0.4" fill="#444" opacity="0.6"/>
<circle cx="119.2" cy="62.9" r="0.4" fill="#444" opacity="0.6"/>
<circle cx="113.9" cy="64.9" r="0.4" fill="#444" opacity="0.6"/>
<circle cx="117.9" cy="63.6" r="0.4" fill="#444" opacity="0.6"/>
<circle cx="112.8" cy="62.4" r="0.4" fill="#444" opacity="0.6"/>
<circle cx="116.7" cy="66.0" r="0.4" fill="#444" opacity="0.6"/>
<circle cx="121.3" cy="63.5" r="0.4" fill="#444" opacity="0.6"/>
<circle cx="115.3" cy="57.6" r="0.4" fill="#444" opacity="0.6"/>
<circle cx="119.8" cy="66.7" r="0.4" fill="#444" opacity="0.6"/>
<circle cx="116.0" cy="61.9" r="0.4" fill="#444" opacity="0.6"/>
<circle cx="108.2" cy="66.2" r="0.4" fill="#444" opacity="0.6"/>
<circle cx="113.6" cy="68.5" r="0.4" fill="#444" opacity="0.6"/>
<circle cx="118.3" cy="67.8" r="0.4" fill="#444" opacity="0.6"/>
<circle cx="115.6" cy="67.6" r="0.4" fill="#444" opacity="0.6"/>
<circle cx="111.8" cy="68.4" r="0.4" fill="#444" opacity="0.6"/>
<circle cx="115.9" cy="60.4" r="0.4" fill="#444" opacity="0.6"/>
<circle cx="114.8" cy="61.1" r="0.4" fill="#444" opacity="0.6"/>
<circle cx="116.8" cy="61.8" r="0.4" fill="#444" opacity="0.6"/>
<circle cx="112.2" cy="62.9" r="0.4" fill="#444" opacity="0.6"/>
<circle cx="115.3" cy="64.6" r="0.4" fill="#444" opacity="0.6"/>
<circle cx="118.1" cy="67.8" r="0.4" fill="#444" opacity="0.6"/>
<circle cx="117.2" cy="68.9" r="0.4" fill="#444" opacity="0.6"/>
<circle cx="108.6" cy="63.8" r="0.4" fill="#444" opacity="0.6"/>
<circle cx="118.8" cy="60.0" r="0.4" fill="#444" opacity="0.6"/>
<circle cx="115.4" cy="64.6" r="0.4" fill="#444" opacity="0.6"/>
<circle cx="111.3" cy="62.3" r="0.4" fill="#444" opacity="0.6"/>
<circle cx="117.8" cy="63.0" r="0.4" fill="#444" opacity="0.6"/>
<circle cx="120.6" cy="71.1" r="0.4" fill="#444" opacity="0.6"/>
<circle cx="115.8" cy="60.6" r="0.4" fill="#444" opacity="0.6"/>
<circle cx="115.9" cy="62.3" r="0.4" fill="#444" opacity="0.6"/>
<circle cx="111.7" cy="62.8" r="0.4" fill="#444" opacity="0.6"/>
<circle cx="114.6" cy="62.9" r="0.4" fill="#444" opacity="0.6"/>
<circle cx="118.7" cy="67.2" r="0.4" fill="#444" opacity="0.6"/>
<circle cx="117.2" cy="62.9" r="0.4" fill="#444" opacity="0.6"/>
<ellipse cx="98.8" cy="66" rx="15.6" ry="5.6" fill="#a6a6a6" stroke="#1e1e1e" stroke-width="1.3"/>
<ellipse cx="92" cy="66.4" rx="7.2" ry="2.6" fill="#d0d0d0" stroke="#555" stroke-width="0.8"/>
<ellipse cx="106.5" cy="66.8" rx="5.8" ry="3" fill="#2a2a2a" stroke="#111" stroke-width="0.8"/>
<ellipse cx="106" cy="66.8" rx="3" ry="1.2" fill="#888"/>
<ellipse cx="90.6" cy="57.3" rx="5.8" ry="2.1" fill="#3a3f48" stroke="#111" stroke-width="0.7"/>
<circle cx="101.9" cy="66.0" r="0.4" fill="#222" opacity="0.5"/>
<circle cx="100.5" cy="63.6" r="0.4" fill="#222" opacity="0.5"/>
<circle cx="77.5" cy="68.2" r="0.4" fill="#222" opacity="0.5"/>
<circle cx="94.8" cy="64.7" r="0.4" fill="#222" opacity="0.5"/>
<circle cx="98.9" cy="65.9" r="0.4" fill="#222" opacity="0.5"/>
<circle cx="96.9" cy="69.8" r="0.4" fill="#222" opacity="0.5"/>
<circle cx="99.9" cy="66.6" r="0.4" fill="#222" opacity="0.5"/>
<circle cx="92.8" cy="65.7" r="0.4" fill="#222" opacity="0.5"/>
<circle cx="102.2" cy="65.8" r="0.4" fill="#222" opacity="0.5"/>
<circle cx="101.2" cy="63.7" r="0.4" fill="#222" opacity="0.5"/>
<circle cx="101.6" cy="63.4" r="0.4" fill="#222" opacity="0.5"/>
<circle cx="95.9" cy="64.1" r="0.4" fill="#222" opacity="0.5"/>
<circle cx="100.2" cy="68.7" r="0.4" fill="#222" opacity="0.5"/>
<circle cx="101.0" cy="63.8" r="0.4" fill="#222" opacity="0.5"/>
<circle cx="99.9" cy="68.6" r="0.4" fill="#222" opacity="0.5"/>
<circle cx="104.0" cy="67.2" r="0.4" fill="#222" opacity="0.5"/>
<circle cx="91.1" cy="64.6" r="0.4" fill="#222" opacity="0.5"/>
<circle cx="94.3" cy="64.8" r="0.4" fill="#222" opacity="0.5"/>
<circle cx="100.6" cy="66.1" r="0.4" fill="#222" opacity="0.5"/>
<circle cx="96.5" cy="67.4" r="0.4" fill="#222" opacity="0.5"/>
<circle cx="94.0" cy="65.2" r="0.4" fill="#222" opacity="0.5"/>
<circle cx="99.7" cy="62.6" r="0.4" fill="#222" opacity="0.5"/>
<circle cx="93.0" cy="62.5" r="0.4" fill="#222" opacity="0.5"/>
<circle cx="91.7" cy="65.6" r="0.4" fill="#222" opacity="0.5"/>
<circle cx="98.1" cy="66.8" r="0.4" fill="#222" opacity="0.5"/>
<circle cx="101.3" cy="63.2" r="0.4" fill="#222" opacity="0.5"/>
<circle cx="112.0" cy="69.4" r="0.4" fill="#222" opacity="0.5"/>
<circle cx="90.5" cy="64.3" r="0.4" fill="#222" opacity="0.5"/>
<circle cx="95.6" cy="66.5" r="0.4" fill="#222" opacity="0.5"/>
<circle cx="103.2" cy="66.0" r="0.4" fill="#222" opacity="0.5"/>
<circle cx="81.1" cy="73.1" r="0.4" fill="#222" opacity="0.5"/>
<circle cx="104.9" cy="68.0" r="0.4" fill="#222" opacity="0.5"/>
<circle cx="93.8" cy="66.2" r="0.4" fill="#222" opacity="0.5"/>
<circle cx="105.4" cy="64.8" r="0.4" fill="#222" opacity="0.5"/>
<circle cx="106.9" cy="66.2" r="0.4" fill="#222" opacity="0.5"/>
<circle cx="110.0" cy="66.1" r="0.4" fill="#222" opacity="0.5"/>
<circle cx="109.3" cy="62.0" r="0.4" fill="#222" opacity="0.5"/>
<circle cx="109.0" cy="67.1" r="0.4" fill="#222" opacity="0.5"/>
<circle cx="96.3" cy="68.7" r="0.4" fill="#222" opacity="0.5"/>
<circle cx="97.1" cy="68.0" r="0.4" fill="#222" opacity="0.5"/>
<circle cx="105.6" cy="68.6" r="0.4" fill="#222" opacity="0.5"/>
<circle cx="114.3" cy="69.4" r="0.4" fill="#222" opacity="0.5"/>
<circle cx="116.4" cy="67.8" r="0.4" fill="#222" opacity="0.5"/>
<circle cx="100.0" cy="67.0" r="0.4" fill="#222" opacity="0.5"/>
<circle cx="98.7" cy="62.9" r="0.4" fill="#222" opacity="0.5"/>
<circle cx="100.0" cy="63.0" r="0.4" fill="#222" opacity="0.5"/>
<circle cx="97.0" cy="65.2" r="0.4" fill="#222" opacity="0.5"/>
<circle cx="95.1" cy="63.3" r="0.4" fill="#222" opacity="0.5"/>
<circle cx="99.8" cy="65.9" r="0.4" fill="#222" opacity="0.5"/>
<circle cx="108.6" cy="67.6" r="0.4" fill="#222" opacity="0.5"/>
<circle cx="105.6" cy="64.8" r="0.4" fill="#222" opacity="0.5"/>
<circle cx="96.8" cy="62.9" r="0.4" fill="#222" opacity="0.5"/>
<circle cx="92.9" cy="67.8" r="0.4" fill="#222" opacity="0.5"/>
<circle cx="97.6" cy="65.6" r="0.4" fill="#222" opacity="0.5"/>
<circle cx="95.1" cy="69.8" r="0.4" fill="#222" opacity="0.5"/>
<circle cx="98.6" cy="68.8" r="0.4" fill="#222" opacity="0.5"/>
<circle cx="98.7" cy="68.3" r="0.4" fill="#222" opacity="0.5"/>
<circle cx="92.2" cy="62.7" r="0.4" fill="#222" opacity="0.5"/>
<circle cx="106.7" cy="65.2" r="0.4" fill="#222" opacity="0.5"/>
<circle cx="100.9" cy="68.2" r="0.4" fill="#222" opacity="0.5"/>
<circle cx="103.8" cy="66.7" r="0.4" fill="#222" opacity="0.5"/>
<circle cx="90.7" cy="64.3" r="0.4" fill="#222" opacity="0.5"/>
<circle cx="99.2" cy="67.6" r="0.4" fill="#222" opacity="0.5"/>
<circle cx="102.6" cy="66.9" r="0.4" fill="#222" opacity="0.5"/>
<circle cx="93.6" cy="66.0" r="0.4" fill="#222" opacity="0.5"/>
<circle cx="105.7" cy="63.8" r="0.4" fill="#222" opacity="0.5"/>
<circle cx="95.0" cy="68.2" r="0.4" fill="#222" opacity="0.5"/>
<circle cx="110.0" cy="67.0" r="0.4" fill="#222" opacity="0.5"/>
<circle cx="99.0" cy="63.6" r="0.4" fill="#222" opacity="0.5"/>
<circle cx="98.1" cy="64.0" r="0.4" fill="#222" opacity="0.5"/>
<circle cx="100.0" cy="67.8" r="0.4" fill="#222" opacity="0.5"/>
<circle cx="102.1" cy="69.2" r="0.4" fill="#222" opacity="0.5"/>
<circle cx="91.9" cy="62.9" r="0.4" fill="#222" opacity="0.5"/>
<circle cx="108.5" cy="68.6" r="0.4" fill="#222" opacity="0.5"/>
<circle cx="92.2" cy="66.3" r="0.4" fill="#222" opacity="0.5"/>
<circle cx="91.5" cy="65.9" r="0.4" fill="#222" opacity="0.5"/>
<circle cx="101.2" cy="68.4" r="0.4" fill="#222" opacity="0.5"/>
<circle cx="92.3" cy="62.9" r="0.4" fill="#222" opacity="0.5"/>
<circle cx="103.0" cy="65.2" r="0.4" fill="#222" opacity="0.5"/>
<circle cx="108.7" cy="63.2" r="0.4" fill="#222" opacity="0.5"/>
<circle cx="82.0" cy="64.5" r="0.45" fill="#222" opacity="0.6"/>
<circle cx="81.7" cy="41.5" r="0.45" fill="#222" opacity="0.6"/>
<circle cx="80.8" cy="72.0" r="0.45" fill="#222" opacity="0.6"/>
<circle cx="81.9" cy="59.8" r="0.45" fill="#222" opacity="0.6"/>
<circle cx="81.8" cy="47.7" r="0.45" fill="#222" opacity="0.6"/>
<circle cx="81.2" cy="72.3" r="0.45" fill="#222" opacity="0.6"/>
<circle cx="80.9" cy="41.8" r="0.45" fill="#222" opacity="0.6"/>
<circle cx="81.2" cy="69.2" r="0.45" fill="#222" opacity="0.6"/>
<circle cx="81.2" cy="48.6" r="0.45" fill="#222" opacity="0.6"/>
<circle cx="81.0" cy="73.1" r="0.45" fill="#222" opacity="0.6"/>
<circle cx="81.9" cy="36.7" r="0.45" fill="#222" opacity="0.6"/>
<circle cx="81.1" cy="48.7" r="0.45" fill="#222" opacity="0.6"/>
<circle cx="81.0" cy="75.0" r="0.45" fill="#222" opacity="0.6"/>
<circle cx="81.8" cy="39.4" r="0.45" fill="#222" opacity="0.6"/>
<circle cx="80.9" cy="45.8" r="0.45" fill="#222" opacity="0.6"/>
<circle cx="80.9" cy="73.5" r="0.45" fill="#222" opacity="0.6"/>
<circle cx="81.1" cy="72.0" r="0.45" fill="#222" opacity="0.6"/>
<circle cx="80.9" cy="48.1" r="0.45" fill="#222" opacity="0.6"/>
<circle cx="81.4" cy="57.7" r="0.45" fill="#222" opacity="0.6"/>
<circle cx="81.3" cy="51.9" r="0.45" fill="#222" opacity="0.6"/>
<circle cx="81.8" cy="47.9" r="0.45" fill="#222" opacity="0.6"/>
<circle cx="81.7" cy="73.4" r="0.45" fill="#222" opacity="0.6"/>
<circle cx="80.7" cy="68.8" r="0.45" fill="#222" opacity="0.6"/>
<circle cx="80.9" cy="46.0" r="0.45" fill="#222" opacity="0.6"/>
<circle cx="82.0" cy="42.2" r="0.45" fill="#222" opacity="0.6"/>
<circle cx="81.9" cy="72.2" r="0.45" fill="#222" opacity="0.6"/>
<circle cx="80.8" cy="58.3" r="0.45" fill="#222" opacity="0.6"/>
<circle cx="80.7" cy="53.1" r="0.45" fill="#222" opacity="0.6"/>
<circle cx="81.0" cy="72.2" r="0.45" fill="#222" opacity="0.6"/>
<circle cx="81.9" cy="47.5" r="0.45" fill="#222" opacity="0.6"/>
<circle cx="81.9" cy="44.0" r="0.45" fill="#222" opacity="0.6"/>
<circle cx="81.5" cy="48.4" r="0.45" fill="#222" opacity="0.6"/>
<circle cx="81.9" cy="40.3" r="0.45" fill="#222" opacity="0.6"/>
<circle cx="81.1" cy="51.9" r="0.45" fill="#222" opacity="0.6"/>
<circle cx="81.4" cy="62.2" r="0.45" fill="#222" opacity="0.6"/>
<circle cx="80.8" cy="46.0" r="0.45" fill="#222" opacity="0.6"/>
<circle cx="80.6" cy="59.0" r="0.45" fill="#222" opacity="0.6"/>
<circle cx="81.1" cy="70.9" r="0.45" fill="#222" opacity="0.6"/>
<circle cx="81.1" cy="42.8" r="0.45" fill="#222" opacity="0.6"/>
<circle cx="81.0" cy="40.6" r="0.45" fill="#222" opacity="0.6"/>
</g>
<rect x="24" y="50.9" width="18.8" height="10.3" fill="none" stroke="#2424a0" stroke-width="1.5"/>
<rect x="81.6" y="50.9" width="16.6" height="10.2" fill="none" stroke="#e07f3a" stroke-width="1.2"/>
<path d="M15.3,84 L15.3,59.5 M12.5,62.8 L15.3,59.5 L18.1,62.8" stroke="#111" stroke-width="1.3" fill="none" />
<path d="M15.3,84 L44.4,84 M41.1,81.2 L44.4,84 L41.1,86.8" stroke="#111" stroke-width="1.3" fill="none" />
<text transform="translate(11.2,72.4) rotate(-90)" font-size="8.6" text-anchor="middle" font-weight="normal">CXCR5</text>
<text x="31.8" y="94.2" font-size="8.6" text-anchor="middle" font-weight="normal" >CD45RA</text>
<text x="141.5" y="8.6" font-size="10.5" text-anchor="start" font-weight="bold"  style="stroke-width:0.25px">B</text>
<line x1="180.5" y1="6.5" x2="180.5" y2="78.3" stroke="#74747e" stroke-width="1.4" />
<line x1="178.3" y1="6.9" x2="180.5" y2="6.9" stroke="#74747e" stroke-width="1.2" />
<text x="177.9" y="9.850000000000001" font-size="8.2" text-anchor="end" font-weight="normal" >15</text>
<line x1="178.3" y1="30.5" x2="180.5" y2="30.5" stroke="#74747e" stroke-width="1.2" />
<text x="177.9" y="33.45" font-size="8.2" text-anchor="end" font-weight="normal" >10</text>
<line x1="178.3" y1="54.2" x2="180.5" y2="54.2" stroke="#74747e" stroke-width="1.2" />
<text x="177.9" y="57.150000000000006" font-size="8.2" text-anchor="end" font-weight="normal" >5</text>
<line x1="178.3" y1="78.2" x2="180.5" y2="78.2" stroke="#74747e" stroke-width="1.2" />
<text x="177.9" y="81.15" font-size="8.2" text-anchor="end" font-weight="normal" >0</text>
<line x1="180.5" y1="78.3" x2="251" y2="78.3" stroke="#606068" stroke-width="1.2" />
<line x1="198" y1="78.3" x2="198" y2="80.1" stroke="#74747e" stroke-width="1" />
<line x1="234" y1="78.3" x2="234" y2="80.1" stroke="#74747e" stroke-width="1" />
<text transform="translate(160.6,41) rotate(-90)" font-size="7.9" text-anchor="middle" font-weight="normal">CXCR5<tspan font-size="65%" baseline-shift="45%">+</tspan> in CD4<tspan font-size="65%" baseline-shift="45%">+</tspan> T (%)</text>
<text x="212.9" y="6.9" font-size="8.4" text-anchor="middle" font-weight="normal" >p&lt;0.0001</text>
<text x="197.5" y="88" font-size="7.9" text-anchor="middle" font-weight="normal" >Control</text>
<text x="233.5" y="88" font-size="7.9" text-anchor="middle" font-weight="normal" >IL12Rβ1</text>
<circle cx="200.1" cy="10.9" r="1.75" fill="#1a10aa"/>
<circle cx="195.8" cy="13.3" r="1.75" fill="#1a10aa"/>
<circle cx="202.2" cy="15.2" r="1.75" fill="#1a10aa"/>
<circle cx="193.6" cy="18.4" r="1.75" fill="#1a10aa"/>
<circle cx="197.9" cy="19.4" r="1.75" fill="#1a10aa"/>
<circle cx="193.6" cy="22.5" r="1.75" fill="#1a10aa"/>
<circle cx="197.6" cy="26.1" r="1.75" fill="#1a10aa"/>
<circle cx="202.2" cy="25.3" r="1.75" fill="#1a10aa"/>
<circle cx="187.7" cy="29.9" r="1.75" fill="#1a10aa"/>
<circle cx="187.7" cy="33.3" r="1.75" fill="#1a10aa"/>
<circle cx="191.8" cy="30.8" r="1.75" fill="#1a10aa"/>
<circle cx="191.8" cy="33.6" r="1.75" fill="#1a10aa"/>
<circle cx="195.8" cy="31.7" r="1.75" fill="#1a10aa"/>
<circle cx="199.9" cy="31.7" r="1.75" fill="#1a10aa"/>
<circle cx="203.9" cy="31.1" r="1.75" fill="#1a10aa"/>
<circle cx="203.9" cy="33.6" r="1.75" fill="#1a10aa"/>
<circle cx="207.7" cy="30.5" r="1.75" fill="#1a10aa"/>
<circle cx="207.7" cy="32.4" r="1.75" fill="#1a10aa"/>
<circle cx="195.8" cy="35.8" r="1.75" fill="#1a10aa"/>
<circle cx="199.9" cy="35.8" r="1.75" fill="#1a10aa"/>
<circle cx="187.4" cy="37.0" r="1.75" fill="#1a10aa"/>
<circle cx="189.9" cy="38.0" r="1.75" fill="#1a10aa"/>
<circle cx="192.4" cy="38.9" r="1.75" fill="#1a10aa"/>
<circle cx="194.9" cy="40.2" r="1.75" fill="#1a10aa"/>
<circle cx="197.4" cy="40.8" r="1.75" fill="#1a10aa"/>
<circle cx="199.9" cy="39.8" r="1.75" fill="#1a10aa"/>
<circle cx="202.4" cy="38.9" r="1.75" fill="#1a10aa"/>
<circle cx="204.9" cy="38.0" r="1.75" fill="#1a10aa"/>
<circle cx="207.7" cy="37.0" r="1.75" fill="#1a10aa"/>
<circle cx="188.6" cy="37.5" r="1.75" fill="#1a10aa"/>
<circle cx="191.1" cy="38.5" r="1.75" fill="#1a10aa"/>
<circle cx="193.6" cy="39.5" r="1.75" fill="#1a10aa"/>
<circle cx="196.1" cy="40.5" r="1.75" fill="#1a10aa"/>
<circle cx="198.7" cy="40.3" r="1.75" fill="#1a10aa"/>
<circle cx="201.1" cy="39.3" r="1.75" fill="#1a10aa"/>
<circle cx="203.6" cy="38.5" r="1.75" fill="#1a10aa"/>
<circle cx="206.3" cy="37.5" r="1.75" fill="#1a10aa"/>
<circle cx="193.0" cy="44.6" r="1.75" fill="#1a10aa"/>
<circle cx="202.1" cy="44.6" r="1.75" fill="#1a10aa"/>
<circle cx="195.8" cy="46.5" r="1.75" fill="#1a10aa"/>
<circle cx="199.0" cy="46.5" r="1.75" fill="#1a10aa"/>
<circle cx="195.5" cy="48.1" r="1.75" fill="#1a10aa"/>
<circle cx="199.6" cy="48.1" r="1.75" fill="#1a10aa"/>
<circle cx="189.0" cy="49.0" r="1.75" fill="#1a10aa"/>
<circle cx="191.5" cy="49.9" r="1.75" fill="#1a10aa"/>
<circle cx="194.0" cy="50.5" r="1.75" fill="#1a10aa"/>
<circle cx="196.5" cy="50.2" r="1.75" fill="#1a10aa"/>
<circle cx="199.0" cy="50.9" r="1.75" fill="#1a10aa"/>
<circle cx="201.5" cy="50.2" r="1.75" fill="#1a10aa"/>
<circle cx="203.6" cy="49.9" r="1.75" fill="#1a10aa"/>
<circle cx="206.1" cy="49.3" r="1.75" fill="#1a10aa"/>
<circle cx="187.7" cy="53.0" r="1.75" fill="#1a10aa"/>
<circle cx="191.2" cy="53.7" r="1.75" fill="#1a10aa"/>
<circle cx="194.3" cy="54.6" r="1.75" fill="#1a10aa"/>
<circle cx="197.4" cy="56.2" r="1.75" fill="#1a10aa"/>
<circle cx="200.5" cy="55.8" r="1.75" fill="#1a10aa"/>
<circle cx="202.1" cy="58.7" r="1.75" fill="#1a10aa"/>
<circle cx="204.3" cy="54.3" r="1.75" fill="#1a10aa"/>
<circle cx="207.7" cy="53.0" r="1.75" fill="#1a10aa"/>
<circle cx="206.4" cy="57.7" r="1.75" fill="#1a10aa"/>
<circle cx="189.3" cy="58.0" r="1.75" fill="#1a10aa"/>
<circle cx="193.4" cy="60.5" r="1.75" fill="#1a10aa"/>
<circle cx="197.7" cy="61.5" r="1.75" fill="#1a10aa"/>
<circle cx="189.3" cy="63.0" r="1.75" fill="#1a10aa"/>
<circle cx="193.4" cy="65.2" r="1.75" fill="#1a10aa"/>
<circle cx="197.7" cy="65.8" r="1.75" fill="#1a10aa"/>
<circle cx="202.1" cy="65.5" r="1.75" fill="#1a10aa"/>
<circle cx="206.1" cy="64.9" r="1.75" fill="#1a10aa"/>
<circle cx="189.2" cy="62.9" r="1.75" fill="#1a10aa"/>
<circle cx="193.6" cy="66.1" r="1.75" fill="#1a10aa"/>
<circle cx="197.9" cy="67.0" r="1.75" fill="#1a10aa"/>
<circle cx="202.2" cy="66.6" r="1.75" fill="#1a10aa"/>
<circle cx="206.6" cy="65.1" r="1.75" fill="#1a10aa"/>
<circle cx="202.2" cy="58.9" r="1.75" fill="#1a10aa"/>
<circle cx="206.6" cy="57.9" r="1.75" fill="#1a10aa"/>
<line x1="185.9" y1="42.3" x2="209.9" y2="42.3" stroke="#111" stroke-width="1.4" />
<circle cx="231.4" cy="38.8" r="1.65" fill="#d2672c"/>
<circle cx="236.0" cy="42.9" r="1.65" fill="#d2672c"/>
<circle cx="231.4" cy="47.7" r="1.65" fill="#d2672c"/>
<circle cx="231.4" cy="60.3" r="1.65" fill="#d2672c"/>
<circle cx="235.7" cy="61.3" r="1.65" fill="#d2672c"/>
<circle cx="224.7" cy="64.2" r="1.65" fill="#d2672c"/>
<circle cx="228.5" cy="65.1" r="1.65" fill="#d2672c"/>
<circle cx="233.3" cy="64.6" r="1.65" fill="#d2672c"/>
<circle cx="238.6" cy="65.1" r="1.65" fill="#d2672c"/>
<circle cx="243.5" cy="64.6" r="1.65" fill="#d2672c"/>
<circle cx="223.7" cy="67.5" r="1.65" fill="#d2672c"/>
<circle cx="228.5" cy="67.5" r="1.65" fill="#d2672c"/>
<circle cx="233.8" cy="67.0" r="1.65" fill="#d2672c"/>
<circle cx="238.6" cy="67.0" r="1.65" fill="#d2672c"/>
<circle cx="243.9" cy="67.5" r="1.65" fill="#d2672c"/>
<circle cx="227.6" cy="69.9" r="1.65" fill="#d2672c"/>
<circle cx="231.4" cy="69.9" r="1.65" fill="#d2672c"/>
<circle cx="236.2" cy="69.9" r="1.65" fill="#d2672c"/>
<circle cx="240.1" cy="69.5" r="1.65" fill="#d2672c"/>
<circle cx="233.8" cy="72.3" r="1.65" fill="#d2672c"/>
<circle cx="240.6" cy="74.3" r="1.65" fill="#d2672c"/>
<circle cx="227.1" cy="76.2" r="1.65" fill="#d2672c"/>
<circle cx="231.4" cy="78.1" r="1.65" fill="#d2672c"/>
<circle cx="235.7" cy="76.7" r="1.65" fill="#d2672c"/>
<line x1="221.3" y1="64.3" x2="246.6" y2="64.3" stroke="#111" stroke-width="1.3" />
<line x1="290.5" y1="8" x2="290.5" y2="79.6" stroke="#74747e" stroke-width="1.4" />
<line x1="288.3" y1="8.2" x2="290.5" y2="8.2" stroke="#74747e" stroke-width="1.2" />
<text x="287.9" y="11.149999999999999" font-size="8.2" text-anchor="end" font-weight="normal" >80</text>
<line x1="288.3" y1="26.3" x2="290.5" y2="26.3" stroke="#74747e" stroke-width="1.2" />
<text x="287.9" y="29.25" font-size="8.2" text-anchor="end" font-weight="normal" >60</text>
<line x1="288.3" y1="44.2" x2="290.5" y2="44.2" stroke="#74747e" stroke-width="1.2" />
<text x="287.9" y="47.150000000000006" font-size="8.2" text-anchor="end" font-weight="normal" >40</text>
<line x1="288.3" y1="62" x2="290.5" y2="62" stroke="#74747e" stroke-width="1.2" />
<text x="287.9" y="64.95" font-size="8.2" text-anchor="end" font-weight="normal" >20</text>
<line x1="288.3" y1="79.7" x2="290.5" y2="79.7" stroke="#74747e" stroke-width="1.2" />
<text x="287.9" y="82.65" font-size="8.2" text-anchor="end" font-weight="normal" >0</text>
<line x1="290.5" y1="79.6" x2="358" y2="79.6" stroke="#606068" stroke-width="1.2" />
<line x1="308.5" y1="79.6" x2="308.5" y2="81.39999999999999" stroke="#74747e" stroke-width="1" />
<line x1="344.6" y1="79.6" x2="344.6" y2="81.39999999999999" stroke="#74747e" stroke-width="1" />
<text transform="translate(264.3,42) rotate(-90)" font-size="7.9" text-anchor="middle" font-weight="normal">CD45RA<tspan font-size="65%" baseline-shift="45%">−</tspan> memory</text>
<text transform="translate(274,42) rotate(-90)" font-size="7.9" text-anchor="middle" font-weight="normal">in CD4<tspan font-size="65%" baseline-shift="45%">+</tspan> T (%)</text>
<text x="331.5" y="7.5" font-size="8.4" text-anchor="middle" font-weight="normal" >p=0.0003</text>
<text x="308.7" y="89.6" font-size="7.9" text-anchor="middle" font-weight="normal" >Control</text>
<text x="344.8" y="89.6" font-size="7.9" text-anchor="middle" font-weight="normal" >IL12Rβ1</text>
<circle cx="308.6" cy="14.9" r="1.7" fill="#1a10aa"/>
<circle cx="301.6" cy="18.4" r="1.7" fill="#1a10aa"/>
<circle cx="306.3" cy="18.8" r="1.7" fill="#1a10aa"/>
<circle cx="310.3" cy="20.0" r="1.7" fill="#1a10aa"/>
<circle cx="314.6" cy="18.4" r="1.7" fill="#1a10aa"/>
<circle cx="299.5" cy="22.3" r="1.7" fill="#1a10aa"/>
<circle cx="304.0" cy="23.2" r="1.7" fill="#1a10aa"/>
<circle cx="317.0" cy="22.3" r="1.7" fill="#1a10aa"/>
<circle cx="308.5" cy="22.5" r="1.7" fill="#1a10aa"/>
<circle cx="312.5" cy="23.0" r="1.7" fill="#1a10aa"/>
<circle cx="299.7" cy="27.0" r="1.7" fill="#1a10aa"/>
<circle cx="302.2" cy="27.9" r="1.7" fill="#1a10aa"/>
<circle cx="304.4" cy="28.9" r="1.7" fill="#1a10aa"/>
<circle cx="307.2" cy="29.5" r="1.7" fill="#1a10aa"/>
<circle cx="309.7" cy="29.8" r="1.7" fill="#1a10aa"/>
<circle cx="311.8" cy="28.9" r="1.7" fill="#1a10aa"/>
<circle cx="314.3" cy="27.9" r="1.7" fill="#1a10aa"/>
<circle cx="316.8" cy="27.3" r="1.7" fill="#1a10aa"/>
<circle cx="307.5" cy="25.7" r="1.7" fill="#1a10aa"/>
<circle cx="310.0" cy="25.1" r="1.7" fill="#1a10aa"/>
<circle cx="312.8" cy="24.8" r="1.7" fill="#1a10aa"/>
<circle cx="303.5" cy="25.5" r="1.7" fill="#1a10aa"/>
<circle cx="297.5" cy="32.6" r="1.7" fill="#1a10aa"/>
<circle cx="300.3" cy="33.2" r="1.7" fill="#1a10aa"/>
<circle cx="303.1" cy="34.5" r="1.7" fill="#1a10aa"/>
<circle cx="305.9" cy="35.1" r="1.7" fill="#1a10aa"/>
<circle cx="308.4" cy="35.7" r="1.7" fill="#1a10aa"/>
<circle cx="310.9" cy="35.4" r="1.7" fill="#1a10aa"/>
<circle cx="313.4" cy="34.8" r="1.7" fill="#1a10aa"/>
<circle cx="315.9" cy="33.5" r="1.7" fill="#1a10aa"/>
<circle cx="319.0" cy="31.7" r="1.7" fill="#1a10aa"/>
<circle cx="305.0" cy="31.5" r="1.7" fill="#1a10aa"/>
<circle cx="310.0" cy="31.2" r="1.7" fill="#1a10aa"/>
<circle cx="297.5" cy="37.0" r="1.7" fill="#1a10aa"/>
<circle cx="300.0" cy="37.6" r="1.7" fill="#1a10aa"/>
<circle cx="302.5" cy="38.5" r="1.7" fill="#1a10aa"/>
<circle cx="305.0" cy="39.1" r="1.7" fill="#1a10aa"/>
<circle cx="307.5" cy="39.5" r="1.7" fill="#1a10aa"/>
<circle cx="310.0" cy="39.5" r="1.7" fill="#1a10aa"/>
<circle cx="312.5" cy="39.1" r="1.7" fill="#1a10aa"/>
<circle cx="315.0" cy="38.5" r="1.7" fill="#1a10aa"/>
<circle cx="317.4" cy="37.6" r="1.7" fill="#1a10aa"/>
<circle cx="319.6" cy="37.0" r="1.7" fill="#1a10aa"/>
<circle cx="298.7" cy="41.9" r="1.7" fill="#1a10aa"/>
<circle cx="301.2" cy="42.8" r="1.7" fill="#1a10aa"/>
<circle cx="304.0" cy="43.7" r="1.7" fill="#1a10aa"/>
<circle cx="306.8" cy="44.1" r="1.7" fill="#1a10aa"/>
<circle cx="309.3" cy="43.4" r="1.7" fill="#1a10aa"/>
<circle cx="311.8" cy="42.8" r="1.7" fill="#1a10aa"/>
<circle cx="315.0" cy="42.2" r="1.7" fill="#1a10aa"/>
<circle cx="317.4" cy="41.9" r="1.7" fill="#1a10aa"/>
<circle cx="304.4" cy="40.6" r="1.7" fill="#1a10aa"/>
<circle cx="310.6" cy="40.6" r="1.7" fill="#1a10aa"/>
<circle cx="303.7" cy="47.2" r="1.7" fill="#1a10aa"/>
<circle cx="312.8" cy="46.9" r="1.7" fill="#1a10aa"/>
<circle cx="307.2" cy="45.9" r="1.7" fill="#1a10aa"/>
<circle cx="299.7" cy="51.5" r="1.7" fill="#1a10aa"/>
<circle cx="302.2" cy="52.5" r="1.7" fill="#1a10aa"/>
<circle cx="305.0" cy="53.1" r="1.7" fill="#1a10aa"/>
<circle cx="307.5" cy="53.1" r="1.7" fill="#1a10aa"/>
<circle cx="310.0" cy="52.8" r="1.7" fill="#1a10aa"/>
<circle cx="312.5" cy="52.2" r="1.7" fill="#1a10aa"/>
<circle cx="315.0" cy="51.5" r="1.7" fill="#1a10aa"/>
<circle cx="317.1" cy="50.3" r="1.7" fill="#1a10aa"/>
<circle cx="307.2" cy="50.0" r="1.7" fill="#1a10aa"/>
<circle cx="309.0" cy="49.7" r="1.7" fill="#1a10aa"/>
<circle cx="301.9" cy="55.3" r="1.7" fill="#1a10aa"/>
<circle cx="306.2" cy="55.9" r="1.7" fill="#1a10aa"/>
<circle cx="315.0" cy="55.6" r="1.7" fill="#1a10aa"/>
<circle cx="310.3" cy="58.7" r="1.7" fill="#1a10aa"/>
<circle cx="304.0" cy="60.9" r="1.7" fill="#1a10aa"/>
<circle cx="312.8" cy="60.9" r="1.7" fill="#1a10aa"/>
<circle cx="308.4" cy="63.9" r="1.7" fill="#1a10aa"/>
<line x1="296.3" y1="39" x2="320.9" y2="39" stroke="#111" stroke-width="1.3" />
<circle cx="344.6" cy="25.4" r="1.65" fill="#d2672c"/>
<circle cx="342.0" cy="33.6" r="1.65" fill="#d2672c"/>
<circle cx="346.3" cy="35.0" r="1.65" fill="#d2672c"/>
<circle cx="340.3" cy="40.1" r="1.65" fill="#d2672c"/>
<circle cx="344.6" cy="42.1" r="1.65" fill="#d2672c"/>
<circle cx="348.8" cy="40.1" r="1.65" fill="#d2672c"/>
<circle cx="340.3" cy="45.5" r="1.65" fill="#d2672c"/>
<circle cx="344.6" cy="46.9" r="1.65" fill="#d2672c"/>
<circle cx="348.8" cy="44.7" r="1.65" fill="#d2672c"/>
<circle cx="338.6" cy="54.0" r="1.65" fill="#d2672c"/>
<circle cx="342.9" cy="54.9" r="1.65" fill="#d2672c"/>
<circle cx="346.3" cy="54.0" r="1.65" fill="#d2672c"/>
<circle cx="350.5" cy="52.7" r="1.65" fill="#d2672c"/>
<circle cx="336.0" cy="58.8" r="1.65" fill="#d2672c"/>
<circle cx="340.3" cy="60.8" r="1.65" fill="#d2672c"/>
<circle cx="344.6" cy="62.2" r="1.65" fill="#d2672c"/>
<circle cx="348.8" cy="59.1" r="1.65" fill="#d2672c"/>
<circle cx="353.0" cy="57.8" r="1.65" fill="#d2672c"/>
<circle cx="342.0" cy="70.7" r="1.65" fill="#d2672c"/>
<circle cx="346.3" cy="70.2" r="1.65" fill="#d2672c"/>
<line x1="332.1" y1="50.6" x2="357" y2="50.6" stroke="#111" stroke-width="1.3" />
<line x1="405.5" y1="6.3" x2="405.5" y2="78.3" stroke="#74747e" stroke-width="1.4" />
<line x1="403.3" y1="6.3" x2="405.5" y2="6.3" stroke="#74747e" stroke-width="1.2" />
<text x="402.9" y="9.25" font-size="8.2" text-anchor="end" font-weight="normal" >30</text>
<line x1="403.3" y1="30.2" x2="405.5" y2="30.2" stroke="#74747e" stroke-width="1.2" />
<text x="402.9" y="33.15" font-size="8.2" text-anchor="end" font-weight="normal" >20</text>
<line x1="403.3" y1="54.2" x2="405.5" y2="54.2" stroke="#74747e" stroke-width="1.2" />
<text x="402.9" y="57.150000000000006" font-size="8.2" text-anchor="end" font-weight="normal" >10</text>
<line x1="403.3" y1="78.3" x2="405.5" y2="78.3" stroke="#74747e" stroke-width="1.2" />
<text x="402.9" y="81.25" font-size="8.2" text-anchor="end" font-weight="normal" >0</text>
<line x1="405.5" y1="78.4" x2="478" y2="78.4" stroke="#606068" stroke-width="1.2" />
<line x1="423.8" y1="78.4" x2="423.8" y2="80.2" stroke="#74747e" stroke-width="1" />
<line x1="459.8" y1="78.4" x2="459.8" y2="80.2" stroke="#74747e" stroke-width="1" />
<text transform="translate(381.3,43.5) rotate(-90)" font-size="7.9" text-anchor="middle" font-weight="normal">CXCR5<tspan font-size="65%" baseline-shift="45%">+</tspan> in</text>
<text transform="translate(390.5,43.3) rotate(-90)" font-size="7.9" text-anchor="middle" font-weight="normal">memory CD4<tspan font-size="65%" baseline-shift="45%">+</tspan> T (%)</text>
<text x="441.5" y="7.2" font-size="8.4" text-anchor="middle" font-weight="normal" >p&lt;0.0001</text>
<text x="423.8" y="87.6" font-size="7.9" text-anchor="middle" font-weight="normal" >Control</text>
<text x="460.5" y="87.6" font-size="7.9" text-anchor="middle" font-weight="normal" >IL12Rβ1</text>
<circle cx="423.8" cy="12.8" r="1.75" fill="#1a10aa"/>
<circle cx="417.4" cy="15.2" r="1.75" fill="#1a10aa"/>
<circle cx="430.6" cy="14.9" r="1.75" fill="#1a10aa"/>
<circle cx="421.4" cy="19.4" r="1.75" fill="#1a10aa"/>
<circle cx="426.2" cy="19.1" r="1.75" fill="#1a10aa"/>
<circle cx="432.5" cy="20.5" r="1.75" fill="#1a10aa"/>
<circle cx="415.2" cy="23.2" r="1.75" fill="#1a10aa"/>
<circle cx="415.2" cy="24.3" r="1.75" fill="#1a10aa"/>
<circle cx="419.3" cy="24.6" r="1.75" fill="#1a10aa"/>
<circle cx="423.7" cy="24.6" r="1.75" fill="#1a10aa"/>
<circle cx="427.7" cy="24.6" r="1.75" fill="#1a10aa"/>
<circle cx="413.4" cy="28.1" r="1.75" fill="#1a10aa"/>
<circle cx="413.4" cy="29.9" r="1.75" fill="#1a10aa"/>
<circle cx="417.7" cy="28.4" r="1.75" fill="#1a10aa"/>
<circle cx="416.5" cy="31.2" r="1.75" fill="#1a10aa"/>
<circle cx="421.5" cy="29.3" r="1.75" fill="#1a10aa"/>
<circle cx="421.5" cy="31.8" r="1.75" fill="#1a10aa"/>
<circle cx="425.8" cy="28.7" r="1.75" fill="#1a10aa"/>
<circle cx="427.7" cy="31.8" r="1.75" fill="#1a10aa"/>
<circle cx="429.9" cy="28.1" r="1.75" fill="#1a10aa"/>
<circle cx="430.8" cy="30.9" r="1.75" fill="#1a10aa"/>
<circle cx="433.9" cy="27.7" r="1.75" fill="#1a10aa"/>
<circle cx="433.9" cy="30.2" r="1.75" fill="#1a10aa"/>
<circle cx="419.0" cy="30.9" r="1.75" fill="#1a10aa"/>
<circle cx="425.2" cy="33.7" r="1.75" fill="#1a10aa"/>
<circle cx="413.4" cy="34.3" r="1.75" fill="#1a10aa"/>
<circle cx="415.9" cy="35.5" r="1.75" fill="#1a10aa"/>
<circle cx="418.4" cy="36.5" r="1.75" fill="#1a10aa"/>
<circle cx="420.8" cy="37.4" r="1.75" fill="#1a10aa"/>
<circle cx="423.3" cy="37.4" r="1.75" fill="#1a10aa"/>
<circle cx="425.8" cy="37.1" r="1.75" fill="#1a10aa"/>
<circle cx="428.3" cy="36.2" r="1.75" fill="#1a10aa"/>
<circle cx="430.8" cy="35.2" r="1.75" fill="#1a10aa"/>
<circle cx="433.6" cy="34.6" r="1.75" fill="#1a10aa"/>
<circle cx="414.6" cy="35.0" r="1.75" fill="#1a10aa"/>
<circle cx="417.1" cy="36.0" r="1.75" fill="#1a10aa"/>
<circle cx="419.6" cy="37.0" r="1.75" fill="#1a10aa"/>
<circle cx="422.0" cy="37.5" r="1.75" fill="#1a10aa"/>
<circle cx="424.5" cy="37.3" r="1.75" fill="#1a10aa"/>
<circle cx="427.0" cy="36.7" r="1.75" fill="#1a10aa"/>
<circle cx="429.5" cy="35.7" r="1.75" fill="#1a10aa"/>
<circle cx="432.2" cy="34.9" r="1.75" fill="#1a10aa"/>
<circle cx="414.6" cy="39.6" r="1.75" fill="#1a10aa"/>
<circle cx="417.1" cy="40.2" r="1.75" fill="#1a10aa"/>
<circle cx="419.6" cy="40.8" r="1.75" fill="#1a10aa"/>
<circle cx="422.4" cy="41.1" r="1.75" fill="#1a10aa"/>
<circle cx="425.2" cy="40.8" r="1.75" fill="#1a10aa"/>
<circle cx="427.7" cy="39.9" r="1.75" fill="#1a10aa"/>
<circle cx="430.2" cy="39.6" r="1.75" fill="#1a10aa"/>
<circle cx="414.9" cy="43.0" r="1.75" fill="#1a10aa"/>
<circle cx="419.3" cy="44.6" r="1.75" fill="#1a10aa"/>
<circle cx="428.3" cy="44.0" r="1.75" fill="#1a10aa"/>
<circle cx="432.1" cy="43.0" r="1.75" fill="#1a10aa"/>
<circle cx="423.8" cy="47.5" r="1.75" fill="#1a10aa"/>
<circle cx="413.7" cy="48.9" r="1.75" fill="#1a10aa"/>
<circle cx="417.6" cy="50.4" r="1.75" fill="#1a10aa"/>
<circle cx="420.9" cy="51.3" r="1.75" fill="#1a10aa"/>
<circle cx="423.8" cy="52.3" r="1.75" fill="#1a10aa"/>
<circle cx="427.2" cy="50.4" r="1.75" fill="#1a10aa"/>
<circle cx="430.6" cy="48.9" r="1.75" fill="#1a10aa"/>
<circle cx="433.9" cy="48.5" r="1.75" fill="#1a10aa"/>
<circle cx="413.7" cy="53.7" r="1.75" fill="#1a10aa"/>
<circle cx="418.0" cy="54.7" r="1.75" fill="#1a10aa"/>
<circle cx="421.4" cy="57.1" r="1.75" fill="#1a10aa"/>
<circle cx="425.7" cy="55.7" r="1.75" fill="#1a10aa"/>
<circle cx="429.6" cy="54.2" r="1.75" fill="#1a10aa"/>
<circle cx="433.9" cy="52.8" r="1.75" fill="#1a10aa"/>
<circle cx="421.4" cy="58.9" r="1.75" fill="#1a10aa"/>
<circle cx="425.7" cy="61.5" r="1.75" fill="#1a10aa"/>
<circle cx="423.8" cy="67.2" r="1.75" fill="#1a10aa"/>
<line x1="411.5" y1="38.3" x2="435.8" y2="38.3" stroke="#111" stroke-width="1.4" />
<circle cx="459.8" cy="17.2" r="1.65" fill="#d2672c"/>
<circle cx="459.4" cy="34.1" r="1.65" fill="#d2672c"/>
<circle cx="461.4" cy="34.9" r="1.65" fill="#d2672c"/>
<circle cx="457.3" cy="39.0" r="1.65" fill="#d2672c"/>
<circle cx="458.0" cy="41.7" r="1.65" fill="#d2672c"/>
<circle cx="461.4" cy="44.3" r="1.65" fill="#d2672c"/>
<circle cx="462.0" cy="52.5" r="1.65" fill="#d2672c"/>
<circle cx="451.2" cy="58.0" r="1.65" fill="#d2672c"/>
<circle cx="456.3" cy="57.0" r="1.65" fill="#d2672c"/>
<circle cx="468.6" cy="58.0" r="1.65" fill="#d2672c"/>
<circle cx="455.3" cy="60.7" r="1.65" fill="#d2672c"/>
<circle cx="459.8" cy="60.7" r="1.65" fill="#d2672c"/>
<circle cx="464.5" cy="60.0" r="1.65" fill="#d2672c"/>
<circle cx="459.8" cy="64.7" r="1.65" fill="#d2672c"/>
<circle cx="464.5" cy="62.7" r="1.65" fill="#d2672c"/>
<circle cx="455.3" cy="69.2" r="1.65" fill="#d2672c"/>
<circle cx="464.5" cy="69.2" r="1.65" fill="#d2672c"/>
<circle cx="455.3" cy="74.3" r="1.65" fill="#d2672c"/>
<circle cx="459.8" cy="72.3" r="1.65" fill="#d2672c"/>
<circle cx="464.5" cy="74.9" r="1.65" fill="#d2672c"/>
<circle cx="459.8" cy="78.4" r="1.65" fill="#d2672c"/>
<line x1="447.1" y1="56.6" x2="472.7" y2="56.6" stroke="#111" stroke-width="1.3" />
<text x="0" y="116.5" font-size="10.5" text-anchor="start" font-weight="bold"  style="stroke-width:0.25px">C</text>
<line x1="29.6" y1="130.3" x2="29.6" y2="201.5" stroke="#74747e" stroke-width="1.4" />
<line x1="27.400000000000002" y1="130.3" x2="29.6" y2="130.3" stroke="#74747e" stroke-width="1.2" />
<text x="27.0" y="133.25" font-size="8.2" text-anchor="end" font-weight="normal" >1500</text>
<line x1="27.400000000000002" y1="154.2" x2="29.6" y2="154.2" stroke="#74747e" stroke-width="1.2" />
<text x="27.0" y="157.14999999999998" font-size="8.2" text-anchor="end" font-weight="normal" >1000</text>
<line x1="27.400000000000002" y1="177.9" x2="29.6" y2="177.9" stroke="#74747e" stroke-width="1.2" />
<text x="27.0" y="180.85" font-size="8.2" text-anchor="end" font-weight="normal" >500</text>
<line x1="27.400000000000002" y1="201.5" x2="29.6" y2="201.5" stroke="#74747e" stroke-width="1.2" />
<text x="27.0" y="204.45" font-size="8.2" text-anchor="end" font-weight="normal" >0</text>
<line x1="29.6" y1="201.4" x2="102" y2="201.4" stroke="#606068" stroke-width="1.2" />
<line x1="47.5" y1="201.4" x2="47.5" y2="203.20000000000002" stroke="#74747e" stroke-width="1" />
<line x1="83.5" y1="201.4" x2="83.5" y2="203.20000000000002" stroke="#74747e" stroke-width="1" />
<text transform="translate(5.3,164.7) rotate(-90)" font-size="7.9" text-anchor="middle" font-weight="normal">MFI CXCR5 of CXCR5<tspan font-size="65%" baseline-shift="45%">+</tspan></text>
<text x="66.7" y="136.3" font-size="8.4" text-anchor="middle" font-weight="normal" >p&lt;0.0001</text>
<text x="47.8" y="210.7" font-size="7.9" text-anchor="middle" font-weight="normal" >Control</text>
<text x="83.4" y="210.7" font-size="7.9" text-anchor="middle" font-weight="normal" >IL12Rβ1</text>
<line x1="35.4" y1="166.4" x2="60.4" y2="166.4" stroke="#111" stroke-width="1.5" />
<circle cx="49.8" cy="144.6" r="1.75" fill="#1a10aa"/>
<circle cx="45.5" cy="146.2" r="1.75" fill="#1a10aa"/>
<circle cx="45.5" cy="147.6" r="1.75" fill="#1a10aa"/>
<circle cx="49.8" cy="151.0" r="1.75" fill="#1a10aa"/>
<circle cx="49.6" cy="150.7" r="1.75" fill="#1a10aa"/>
<circle cx="41.4" cy="154.3" r="1.75" fill="#1a10aa"/>
<circle cx="54.2" cy="153.5" r="1.75" fill="#1a10aa"/>
<circle cx="39.0" cy="157.1" r="1.75" fill="#1a10aa"/>
<circle cx="45.3" cy="156.4" r="1.75" fill="#1a10aa"/>
<circle cx="49.6" cy="156.4" r="1.75" fill="#1a10aa"/>
<circle cx="41.8" cy="159.6" r="1.75" fill="#1a10aa"/>
<circle cx="45.3" cy="158.9" r="1.75" fill="#1a10aa"/>
<circle cx="49.6" cy="158.9" r="1.75" fill="#1a10aa"/>
<circle cx="53.1" cy="159.6" r="1.75" fill="#1a10aa"/>
<circle cx="56.7" cy="158.9" r="1.75" fill="#1a10aa"/>
<circle cx="38.3" cy="162.1" r="1.75" fill="#1a10aa"/>
<circle cx="40.7" cy="163.1" r="1.75" fill="#1a10aa"/>
<circle cx="43.6" cy="164.2" r="1.75" fill="#1a10aa"/>
<circle cx="46.8" cy="164.9" r="1.75" fill="#1a10aa"/>
<circle cx="50.0" cy="164.2" r="1.75" fill="#1a10aa"/>
<circle cx="52.8" cy="163.5" r="1.75" fill="#1a10aa"/>
<circle cx="55.6" cy="162.4" r="1.75" fill="#1a10aa"/>
<circle cx="57.4" cy="161.7" r="1.75" fill="#1a10aa"/>
<circle cx="39.0" cy="166.7" r="1.75" fill="#1a10aa"/>
<circle cx="41.8" cy="167.0" r="1.75" fill="#1a10aa"/>
<circle cx="44.6" cy="167.4" r="1.75" fill="#1a10aa"/>
<circle cx="47.8" cy="167.4" r="1.75" fill="#1a10aa"/>
<circle cx="51.0" cy="167.0" r="1.75" fill="#1a10aa"/>
<circle cx="53.9" cy="166.7" r="1.75" fill="#1a10aa"/>
<circle cx="56.7" cy="166.3" r="1.75" fill="#1a10aa"/>
<circle cx="38.3" cy="171.3" r="1.75" fill="#1a10aa"/>
<circle cx="41.1" cy="172.0" r="1.75" fill="#1a10aa"/>
<circle cx="43.9" cy="172.7" r="1.75" fill="#1a10aa"/>
<circle cx="47.1" cy="172.7" r="1.75" fill="#1a10aa"/>
<circle cx="50.3" cy="172.3" r="1.75" fill="#1a10aa"/>
<circle cx="53.5" cy="171.6" r="1.75" fill="#1a10aa"/>
<circle cx="56.7" cy="170.9" r="1.75" fill="#1a10aa"/>
<circle cx="40.4" cy="169.1" r="1.75" fill="#1a10aa"/>
<circle cx="43.9" cy="169.9" r="1.75" fill="#1a10aa"/>
<circle cx="47.5" cy="170.2" r="1.75" fill="#1a10aa"/>
<circle cx="51.0" cy="169.9" r="1.75" fill="#1a10aa"/>
<circle cx="54.6" cy="169.1" r="1.75" fill="#1a10aa"/>
<circle cx="39.2" cy="178.0" r="1.75" fill="#1a10aa"/>
<circle cx="43.6" cy="178.5" r="1.75" fill="#1a10aa"/>
<circle cx="47.9" cy="179.9" r="1.75" fill="#1a10aa"/>
<circle cx="52.2" cy="178.5" r="1.75" fill="#1a10aa"/>
<circle cx="56.6" cy="177.5" r="1.75" fill="#1a10aa"/>
<circle cx="41.2" cy="182.3" r="1.75" fill="#1a10aa"/>
<circle cx="45.5" cy="185.7" r="1.75" fill="#1a10aa"/>
<circle cx="49.8" cy="183.7" r="1.75" fill="#1a10aa"/>
<circle cx="54.2" cy="181.3" r="1.75" fill="#1a10aa"/>
<circle cx="79.1" cy="161.3" r="1.65" fill="#d2672c"/>
<circle cx="81.5" cy="162.7" r="1.65" fill="#d2672c"/>
<circle cx="83.9" cy="161.9" r="1.65" fill="#d2672c"/>
<circle cx="88.2" cy="161.9" r="1.65" fill="#d2672c"/>
<circle cx="85.8" cy="167.5" r="1.65" fill="#d2672c"/>
<circle cx="79.6" cy="169.9" r="1.65" fill="#d2672c"/>
<circle cx="88.2" cy="172.1" r="1.65" fill="#d2672c"/>
<circle cx="83.4" cy="173.8" r="1.65" fill="#d2672c"/>
<circle cx="75.7" cy="179.1" r="1.65" fill="#d2672c"/>
<circle cx="78.1" cy="179.6" r="1.65" fill="#d2672c"/>
<circle cx="81.5" cy="179.1" r="1.65" fill="#d2672c"/>
<circle cx="84.9" cy="179.6" r="1.65" fill="#d2672c"/>
<circle cx="88.2" cy="179.6" r="1.65" fill="#d2672c"/>
<circle cx="92.1" cy="179.6" r="1.65" fill="#d2672c"/>
<circle cx="79.6" cy="181.5" r="1.65" fill="#d2672c"/>
<circle cx="83.9" cy="182.0" r="1.65" fill="#d2672c"/>
<circle cx="87.3" cy="181.5" r="1.65" fill="#d2672c"/>
<circle cx="90.2" cy="183.4" r="1.65" fill="#d2672c"/>
<circle cx="77.2" cy="185.6" r="1.65" fill="#d2672c"/>
<circle cx="81.5" cy="186.8" r="1.65" fill="#d2672c"/>
<circle cx="85.8" cy="186.3" r="1.65" fill="#d2672c"/>
<line x1="71.4" y1="176.4" x2="95.9" y2="176.4" stroke="#111" stroke-width="1.3" />
<text x="112.5" y="116" font-size="10.5" text-anchor="start" font-weight="bold"  style="stroke-width:0.25px">D</text>
<line x1="141.5" y1="126.2" x2="141.5" y2="197.4" stroke="#74747e" stroke-width="1.4" />
<line x1="139.3" y1="126.2" x2="141.5" y2="126.2" stroke="#74747e" stroke-width="1.2" />
<text x="138.9" y="129.15" font-size="8.2" text-anchor="end" font-weight="normal" >15</text>
<line x1="139.3" y1="150.4" x2="141.5" y2="150.4" stroke="#74747e" stroke-width="1.2" />
<text x="138.9" y="153.35" font-size="8.2" text-anchor="end" font-weight="normal" >10</text>
<line x1="139.3" y1="174" x2="141.5" y2="174" stroke="#74747e" stroke-width="1.2" />
<text x="138.9" y="176.95" font-size="8.2" text-anchor="end" font-weight="normal" >5</text>
<line x1="139.3" y1="197.4" x2="141.5" y2="197.4" stroke="#74747e" stroke-width="1.2" />
<text x="138.9" y="200.35" font-size="8.2" text-anchor="end" font-weight="normal" >0</text>
<line x1="141.5" y1="197.3" x2="248.5" y2="197.3" stroke="#606068" stroke-width="1.2" />
<line x1="141.5" y1="197.3" x2="141.5" y2="199.10000000000002" stroke="#74747e" stroke-width="1" />
<line x1="168" y1="197.3" x2="168" y2="199.10000000000002" stroke="#74747e" stroke-width="1" />
<line x1="194.9" y1="197.3" x2="194.9" y2="199.10000000000002" stroke="#74747e" stroke-width="1" />
<line x1="221.8" y1="197.3" x2="221.8" y2="199.10000000000002" stroke="#74747e" stroke-width="1" />
<line x1="248.5" y1="197.3" x2="248.5" y2="199.10000000000002" stroke="#74747e" stroke-width="1" />
<text x="141.2" y="206.6" font-size="7.9" text-anchor="middle" font-weight="normal" >0</text>
<text x="168" y="206.6" font-size="7.9" text-anchor="middle" font-weight="normal" >10</text>
<text x="194.9" y="206.6" font-size="7.9" text-anchor="middle" font-weight="normal" >20</text>
<text x="221.8" y="206.6" font-size="7.9" text-anchor="middle" font-weight="normal" >30</text>
<text x="248.5" y="206.6" font-size="7.9" text-anchor="middle" font-weight="normal" >40</text>
<text x="194.8" y="217.3" font-size="8" text-anchor="middle" font-weight="normal" >Age</text>
<text transform="translate(120.8,166) rotate(-90)" font-size="7.9" text-anchor="middle" font-weight="normal">CXCR5<tspan font-size="65%" baseline-shift="45%">+</tspan></text>
<text transform="translate(129.6,164.6) rotate(-90)" font-size="7.9" text-anchor="middle" font-weight="normal">in CD4<tspan font-size="65%" baseline-shift="45%">+</tspan> T (%)</text>
<circle cx="181.3" cy="132.5" r="1.4" fill="#1a10aa"/>
<circle cx="165.2" cy="145.6" r="1.4" fill="#1a10aa"/>
<circle cx="154.2" cy="150.8" r="1.4" fill="#1a10aa"/>
<circle cx="175.7" cy="150.2" r="1.4" fill="#1a10aa"/>
<circle cx="173.4" cy="152.8" r="1.4" fill="#1a10aa"/>
<circle cx="178.5" cy="152.8" r="1.4" fill="#1a10aa"/>
<circle cx="148.5" cy="155.4" r="1.4" fill="#1a10aa"/>
<circle cx="157.0" cy="158.1" r="1.4" fill="#1a10aa"/>
<circle cx="159.8" cy="156.7" r="1.4" fill="#1a10aa"/>
<circle cx="162.7" cy="158.8" r="1.4" fill="#1a10aa"/>
<circle cx="167.8" cy="155.0" r="1.4" fill="#1a10aa"/>
<circle cx="167.8" cy="157.3" r="1.4" fill="#1a10aa"/>
<circle cx="170.6" cy="159.0" r="1.4" fill="#1a10aa"/>
<circle cx="173.4" cy="158.1" r="1.4" fill="#1a10aa"/>
<circle cx="173.4" cy="160.1" r="1.4" fill="#1a10aa"/>
<circle cx="146.2" cy="161.5" r="1.4" fill="#1a10aa"/>
<circle cx="149.1" cy="161.8" r="1.4" fill="#1a10aa"/>
<circle cx="151.3" cy="161.5" r="1.4" fill="#1a10aa"/>
<circle cx="154.2" cy="150.7" r="1.4" fill="#1a10aa"/>
<circle cx="149.2" cy="155.4" r="1.4" fill="#1a10aa"/>
<circle cx="158.4" cy="156.4" r="1.4" fill="#1a10aa"/>
<circle cx="175.4" cy="150.7" r="1.4" fill="#1a10aa"/>
<circle cx="179.0" cy="152.8" r="1.4" fill="#1a10aa"/>
<circle cx="183.2" cy="152.8" r="1.4" fill="#1a10aa"/>
<circle cx="183.9" cy="150.7" r="1.4" fill="#1a10aa"/>
<circle cx="159.1" cy="168.4" r="1.4" fill="#1a10aa"/>
<circle cx="159.8" cy="172.7" r="1.4" fill="#1a10aa"/>
<circle cx="164.8" cy="169.8" r="1.4" fill="#1a10aa"/>
<circle cx="164.8" cy="172.0" r="1.4" fill="#1a10aa"/>
<circle cx="164.8" cy="174.1" r="1.4" fill="#1a10aa"/>
<circle cx="165.5" cy="176.2" r="1.4" fill="#1a10aa"/>
<circle cx="165.5" cy="179.0" r="1.4" fill="#1a10aa"/>
<circle cx="167.6" cy="167.0" r="1.4" fill="#1a10aa"/>
<circle cx="170.5" cy="169.1" r="1.4" fill="#1a10aa"/>
<circle cx="173.3" cy="169.8" r="1.4" fill="#1a10aa"/>
<circle cx="176.1" cy="174.8" r="1.4" fill="#1a10aa"/>
<circle cx="178.2" cy="163.5" r="1.4" fill="#1a10aa"/>
<circle cx="183.9" cy="169.1" r="1.4" fill="#1a10aa"/>
<circle cx="186.7" cy="169.1" r="1.4" fill="#1a10aa"/>
<circle cx="146.4" cy="177.6" r="1.4" fill="#1a10aa"/>
<circle cx="149.2" cy="180.5" r="1.4" fill="#1a10aa"/>
<circle cx="151.3" cy="180.5" r="1.4" fill="#1a10aa"/>
<circle cx="178.2" cy="186.1" r="1.4" fill="#1a10aa"/>
<circle cx="181.1" cy="185.4" r="1.4" fill="#1a10aa"/>
<circle cx="186.9" cy="130.6" r="1.4" fill="#1a10aa"/>
<circle cx="208.1" cy="134.8" r="1.4" fill="#1a10aa"/>
<circle cx="208.1" cy="138.8" r="1.4" fill="#1a10aa"/>
<circle cx="208.1" cy="141.9" r="1.4" fill="#1a10aa"/>
<circle cx="219.0" cy="138.1" r="1.4" fill="#1a10aa"/>
<circle cx="235.3" cy="144.8" r="1.4" fill="#1a10aa"/>
<circle cx="216.3" cy="151.3" r="1.4" fill="#1a10aa"/>
<circle cx="219.0" cy="150.0" r="1.4" fill="#1a10aa"/>
<circle cx="197.5" cy="156.3" r="1.4" fill="#1a10aa"/>
<circle cx="218.8" cy="157.8" r="1.4" fill="#1a10aa"/>
<circle cx="210.6" cy="158.1" r="1.4" fill="#1a10aa"/>
<circle cx="213.8" cy="157.8" r="1.4" fill="#1a10aa"/>
<circle cx="200.0" cy="162.3" r="1.4" fill="#1a10aa"/>
<circle cx="202.5" cy="163.1" r="1.4" fill="#1a10aa"/>
<circle cx="221.9" cy="162.3" r="1.4" fill="#1a10aa"/>
<circle cx="203.1" cy="163.5" r="1.4" fill="#1a10aa"/>
<circle cx="213.8" cy="165.0" r="1.4" fill="#1a10aa"/>
<circle cx="230.0" cy="166.9" r="1.4" fill="#1a10aa"/>
<circle cx="186.9" cy="169.8" r="1.4" fill="#1a10aa"/>
<circle cx="221.9" cy="172.1" r="1.4" fill="#1a10aa"/>
<circle cx="230.0" cy="172.1" r="1.4" fill="#1a10aa"/>
<circle cx="235.3" cy="173.1" r="1.4" fill="#1a10aa"/>
<circle cx="205.6" cy="176.6" r="1.4" fill="#1a10aa"/>
<circle cx="200.0" cy="185.0" r="1.4" fill="#1a10aa"/>
<circle cx="162.0" cy="157.1" r="1.4" fill="#1a10aa"/>
<circle cx="162.7" cy="159.2" r="1.4" fill="#1a10aa"/>
<circle cx="157.0" cy="162.5" r="1.4" fill="#d2672c"/>
<circle cx="142.8" cy="167.0" r="1.4" fill="#d2672c"/>
<circle cx="149.2" cy="179.0" r="1.4" fill="#d2672c"/>
<circle cx="157.0" cy="183.3" r="1.4" fill="#d2672c"/>
<circle cx="158.4" cy="188.2" r="1.4" fill="#d2672c"/>
<circle cx="154.2" cy="188.2" r="1.4" fill="#d2672c"/>
<circle cx="173.3" cy="190.4" r="1.4" fill="#d2672c"/>
<circle cx="183.9" cy="180.5" r="1.4" fill="#d2672c"/>
<circle cx="145.7" cy="192.5" r="1.4" fill="#d2672c"/>
<circle cx="154.2" cy="196.0" r="1.4" fill="#d2672c"/>
<circle cx="159.8" cy="196.0" r="1.4" fill="#d2672c"/>
<circle cx="148.5" cy="188.2" r="1.4" fill="#d2672c"/>
<circle cx="205.6" cy="184.4" r="1.4" fill="#d2672c"/>
<circle cx="200.0" cy="189.0" r="1.4" fill="#d2672c"/>
<circle cx="235.3" cy="183.8" r="1.4" fill="#d2672c"/>
<path d="M145.5,167.5 L234.6,154" stroke="#1a10aa" stroke-width="1.7" fill="none" />
<path d="M145.5,161.6 Q185,158 235,146.7" stroke="#1a10aa" stroke-width="0.8" fill="none" stroke-dasharray="2.5,2" opacity="0.85"/>
<path d="M145.5,173.2 Q190,164 235,161.7" stroke="#1a10aa" stroke-width="0.8" fill="none" stroke-dasharray="2.5,2" opacity="0.85"/>
<path d="M142.9,186 L234.7,176.1" stroke="#d2672c" stroke-width="1.7" fill="none" />
<path d="M142.9,179 Q193,177 235,161.3" stroke="#d2672c" stroke-width="0.8" fill="none" stroke-dasharray="2.5,2" opacity="0.85"/>
<path d="M144.6,192.6 Q182,181 235,191.3" stroke="#d2672c" stroke-width="0.8" fill="none" stroke-dasharray="2.5,2" opacity="0.85"/>
<line x1="220.8" y1="221.7" x2="238.3" y2="221.7" stroke="#1a10aa" stroke-width="1.5" />
<line x1="220.8" y1="230.5" x2="238.3" y2="230.5" stroke="#d2672c" stroke-width="1.5" />
<text x="248.4" y="224.3" font-size="7.8" text-anchor="start" font-weight="normal" >Control subjects</text>
<text x="248.4" y="234.4" font-size="7.8" text-anchor="start" font-weight="normal" >IL12Rβ1-deficiency</text>
<line x1="295.5" y1="125.6" x2="295.5" y2="196.8" stroke="#74747e" stroke-width="1.4" />
<line x1="293.3" y1="125.6" x2="295.5" y2="125.6" stroke="#74747e" stroke-width="1.2" />
<text x="292.9" y="128.54999999999998" font-size="8.2" text-anchor="end" font-weight="normal" >30</text>
<line x1="293.3" y1="149.3" x2="295.5" y2="149.3" stroke="#74747e" stroke-width="1.2" />
<text x="292.9" y="152.25" font-size="8.2" text-anchor="end" font-weight="normal" >20</text>
<line x1="293.3" y1="173.2" x2="295.5" y2="173.2" stroke="#74747e" stroke-width="1.2" />
<text x="292.9" y="176.14999999999998" font-size="8.2" text-anchor="end" font-weight="normal" >10</text>
<line x1="293.3" y1="196.8" x2="295.5" y2="196.8" stroke="#74747e" stroke-width="1.2" />
<text x="292.9" y="199.75" font-size="8.2" text-anchor="end" font-weight="normal" >0</text>
<line x1="295.5" y1="196.8" x2="403.8" y2="196.8" stroke="#606068" stroke-width="1.2" />
<line x1="295.5" y1="196.8" x2="295.5" y2="198.60000000000002" stroke="#74747e" stroke-width="1" />
<line x1="322.5" y1="196.8" x2="322.5" y2="198.60000000000002" stroke="#74747e" stroke-width="1" />
<line x1="349.6" y1="196.8" x2="349.6" y2="198.60000000000002" stroke="#74747e" stroke-width="1" />
<line x1="376.4" y1="196.8" x2="376.4" y2="198.60000000000002" stroke="#74747e" stroke-width="1" />
<line x1="403.5" y1="196.8" x2="403.5" y2="198.60000000000002" stroke="#74747e" stroke-width="1" />
<text x="295.5" y="206.6" font-size="7.9" text-anchor="middle" font-weight="normal" >0</text>
<text x="322.5" y="206.6" font-size="7.9" text-anchor="middle" font-weight="normal" >10</text>
<text x="349.6" y="206.6" font-size="7.9" text-anchor="middle" font-weight="normal" >20</text>
<text x="376.4" y="206.6" font-size="7.9" text-anchor="middle" font-weight="normal" >30</text>
<text x="403.5" y="206.6" font-size="7.9" text-anchor="middle" font-weight="normal" >40</text>
<text x="350" y="217.3" font-size="8" text-anchor="middle" font-weight="normal" >Age</text>
<text transform="translate(270.8,159) rotate(-90)" font-size="7.9" text-anchor="middle" font-weight="normal">CXCR5<tspan font-size="65%" baseline-shift="45%">+</tspan> in</text>
<text transform="translate(280.3,159) rotate(-90)" font-size="7.9" text-anchor="middle" font-weight="normal">memory CD4<tspan font-size="65%" baseline-shift="45%">+</tspan> T (%)</text>
<circle cx="303.6" cy="131.3" r="1.4" fill="#1a10aa"/>
<circle cx="309.0" cy="133.6" r="1.4" fill="#1a10aa"/>
<circle cx="322.3" cy="133.9" r="1.4" fill="#1a10aa"/>
<circle cx="301.0" cy="137.9" r="1.4" fill="#1a10aa"/>
<circle cx="317.2" cy="137.9" r="1.4" fill="#1a10aa"/>
<circle cx="327.8" cy="139.2" r="1.4" fill="#1a10aa"/>
<circle cx="336.0" cy="141.8" r="1.4" fill="#1a10aa"/>
<circle cx="338.8" cy="143.3" r="1.4" fill="#1a10aa"/>
<circle cx="311.6" cy="145.8" r="1.4" fill="#1a10aa"/>
<circle cx="319.9" cy="146.4" r="1.4" fill="#1a10aa"/>
<circle cx="322.9" cy="146.4" r="1.4" fill="#1a10aa"/>
<circle cx="336.0" cy="148.1" r="1.4" fill="#1a10aa"/>
<circle cx="341.4" cy="147.5" r="1.4" fill="#1a10aa"/>
<circle cx="327.8" cy="149.2" r="1.4" fill="#1a10aa"/>
<circle cx="301.0" cy="149.8" r="1.4" fill="#1a10aa"/>
<circle cx="319.9" cy="150.3" r="1.4" fill="#1a10aa"/>
<circle cx="303.2" cy="153.5" r="1.4" fill="#1a10aa"/>
<circle cx="314.5" cy="155.7" r="1.4" fill="#1a10aa"/>
<circle cx="314.5" cy="157.1" r="1.4" fill="#1a10aa"/>
<circle cx="319.5" cy="155.0" r="1.4" fill="#1a10aa"/>
<circle cx="319.5" cy="157.1" r="1.4" fill="#1a10aa"/>
<circle cx="324.5" cy="157.8" r="1.4" fill="#1a10aa"/>
<circle cx="328.0" cy="159.9" r="1.4" fill="#1a10aa"/>
<circle cx="330.1" cy="159.9" r="1.4" fill="#1a10aa"/>
<circle cx="333.0" cy="157.8" r="1.4" fill="#1a10aa"/>
<circle cx="306.0" cy="160.6" r="1.4" fill="#1a10aa"/>
<circle cx="319.5" cy="161.3" r="1.4" fill="#1a10aa"/>
<circle cx="322.3" cy="162.0" r="1.4" fill="#1a10aa"/>
<circle cx="319.5" cy="164.2" r="1.4" fill="#1a10aa"/>
<circle cx="308.9" cy="165.6" r="1.4" fill="#1a10aa"/>
<circle cx="319.5" cy="167.7" r="1.4" fill="#1a10aa"/>
<circle cx="328.0" cy="167.0" r="1.4" fill="#1a10aa"/>
<circle cx="333.0" cy="163.5" r="1.4" fill="#1a10aa"/>
<circle cx="341.5" cy="167.3" r="1.4" fill="#1a10aa"/>
<circle cx="308.9" cy="168.4" r="1.4" fill="#1a10aa"/>
<circle cx="314.5" cy="170.5" r="1.4" fill="#1a10aa"/>
<circle cx="322.3" cy="171.2" r="1.4" fill="#1a10aa"/>
<circle cx="319.5" cy="174.1" r="1.4" fill="#1a10aa"/>
<circle cx="333.0" cy="175.5" r="1.4" fill="#1a10aa"/>
<circle cx="362.9" cy="142.9" r="1.4" fill="#1a10aa"/>
<circle cx="362.9" cy="146.9" r="1.4" fill="#1a10aa"/>
<circle cx="352.4" cy="148.4" r="1.4" fill="#1a10aa"/>
<circle cx="373.9" cy="149.5" r="1.4" fill="#1a10aa"/>
<circle cx="389.8" cy="150.6" r="1.4" fill="#1a10aa"/>
<circle cx="362.9" cy="153.1" r="1.4" fill="#1a10aa"/>
<circle cx="373.9" cy="153.1" r="1.4" fill="#1a10aa"/>
<circle cx="349.5" cy="154.5" r="1.4" fill="#1a10aa"/>
<circle cx="352.4" cy="154.8" r="1.4" fill="#1a10aa"/>
<circle cx="355.2" cy="154.3" r="1.4" fill="#1a10aa"/>
<circle cx="368.2" cy="156.0" r="1.4" fill="#1a10aa"/>
<circle cx="370.5" cy="155.4" r="1.4" fill="#1a10aa"/>
<circle cx="370.5" cy="157.7" r="1.4" fill="#1a10aa"/>
<circle cx="368.2" cy="158.8" r="1.4" fill="#1a10aa"/>
<circle cx="373.9" cy="162.2" r="1.4" fill="#1a10aa"/>
<circle cx="357.5" cy="169.0" r="1.4" fill="#1a10aa"/>
<circle cx="376.3" cy="172.3" r="1.4" fill="#1a10aa"/>
<circle cx="376.3" cy="176.9" r="1.4" fill="#1a10aa"/>
<circle cx="384.4" cy="169.4" r="1.4" fill="#1a10aa"/>
<circle cx="384.4" cy="173.1" r="1.4" fill="#1a10aa"/>
<circle cx="389.8" cy="172.5" r="1.4" fill="#1a10aa"/>
<circle cx="355.0" cy="186.9" r="1.4" fill="#1a10aa"/>
<circle cx="336.2" cy="141.8" r="1.4" fill="#1a10aa"/>
<circle cx="338.9" cy="143.4" r="1.4" fill="#1a10aa"/>
<circle cx="336.2" cy="148.0" r="1.4" fill="#1a10aa"/>
<circle cx="341.5" cy="147.4" r="1.4" fill="#1a10aa"/>
<circle cx="352.3" cy="148.5" r="1.4" fill="#1a10aa"/>
<circle cx="311.6" cy="136.2" r="1.4" fill="#d2672c"/>
<circle cx="298.2" cy="162.0" r="1.4" fill="#d2672c"/>
<circle cx="303.2" cy="159.9" r="1.4" fill="#d2672c"/>
<circle cx="311.7" cy="173.4" r="1.4" fill="#d2672c"/>
<circle cx="300.4" cy="177.6" r="1.4" fill="#d2672c"/>
<circle cx="303.9" cy="181.2" r="1.4" fill="#d2672c"/>
<circle cx="306.7" cy="184.0" r="1.4" fill="#d2672c"/>
<circle cx="298.2" cy="187.5" r="1.4" fill="#d2672c"/>
<circle cx="314.5" cy="188.2" r="1.4" fill="#d2672c"/>
<circle cx="308.9" cy="193.2" r="1.4" fill="#d2672c"/>
<circle cx="314.5" cy="193.2" r="1.4" fill="#d2672c"/>
<circle cx="308.9" cy="196.7" r="1.4" fill="#d2672c"/>
<circle cx="328.0" cy="190.4" r="1.4" fill="#d2672c"/>
<circle cx="335.8" cy="178.3" r="1.4" fill="#d2672c"/>
<circle cx="338.6" cy="171.2" r="1.4" fill="#d2672c"/>
<circle cx="365.4" cy="152.6" r="1.4" fill="#d2672c"/>
<circle cx="355.2" cy="157.7" r="1.4" fill="#d2672c"/>
<circle cx="360.0" cy="179.4" r="1.4" fill="#d2672c"/>
<circle cx="389.8" cy="179.4" r="1.4" fill="#d2672c"/>
<path d="M300.7,150.8 L389.5,164" stroke="#1a10aa" stroke-width="1.7" fill="none" />
<path d="M300.7,146.3 Q345,155 389.5,157.3" stroke="#1a10aa" stroke-width="0.8" fill="none" stroke-dasharray="2.5,2" opacity="0.85"/>
<path d="M300.7,156.2 Q350,159 389.5,169.8" stroke="#1a10aa" stroke-width="0.8" fill="none" stroke-dasharray="2.5,2" opacity="0.85"/>
<path d="M299.5,177.3 L389.5,166.6" stroke="#d2672c" stroke-width="1.7" fill="none" />
<path d="M298,168.4 Q345,168 389.3,146.9" stroke="#d2672c" stroke-width="0.8" fill="none" stroke-dasharray="2.5,2" opacity="0.85"/>
<path d="M298,187.5 Q340,172 389.3,186.3" stroke="#d2672c" stroke-width="0.8" fill="none" stroke-dasharray="2.5,2" opacity="0.85"/>
<text x="418" y="116.5" font-size="10.5" text-anchor="start" font-weight="bold"  style="stroke-width:0.25px">E</text>
<line x1="447.5" y1="125.5" x2="447.5" y2="197.4" stroke="#74747e" stroke-width="1.4" />
<line x1="445.3" y1="125.5" x2="447.5" y2="125.5" stroke="#74747e" stroke-width="1.2" />
<text x="444.9" y="128.45" font-size="8.2" text-anchor="end" font-weight="normal" >30</text>
<line x1="445.3" y1="149.7" x2="447.5" y2="149.7" stroke="#74747e" stroke-width="1.2" />
<text x="444.9" y="152.64999999999998" font-size="8.2" text-anchor="end" font-weight="normal" >20</text>
<line x1="445.3" y1="173.4" x2="447.5" y2="173.4" stroke="#74747e" stroke-width="1.2" />
<text x="444.9" y="176.35" font-size="8.2" text-anchor="end" font-weight="normal" >10</text>
<line x1="445.3" y1="197.4" x2="447.5" y2="197.4" stroke="#74747e" stroke-width="1.2" />
<text x="444.9" y="200.35" font-size="8.2" text-anchor="end" font-weight="normal" >0</text>
<line x1="447.5" y1="197.4" x2="520" y2="197.4" stroke="#606068" stroke-width="1.2" />
<line x1="465.9" y1="197.4" x2="465.9" y2="199.20000000000002" stroke="#74747e" stroke-width="1" />
<line x1="501.9" y1="197.4" x2="501.9" y2="199.20000000000002" stroke="#74747e" stroke-width="1" />
<text transform="translate(424.8,158) rotate(-90)" font-size="7.9" text-anchor="middle" font-weight="normal">CXCR5<tspan font-size="65%" baseline-shift="45%">+</tspan> in</text>
<text transform="translate(434.3,160) rotate(-90)" font-size="7.9" text-anchor="middle" font-weight="normal">memory CD4<tspan font-size="65%" baseline-shift="45%">+</tspan> T (%)</text>
<text x="486" y="114" font-size="8.2" text-anchor="middle" font-weight="normal" >Age &lt;10</text>
<line x1="471.2" y1="115.6" x2="500.6" y2="115.6" stroke="#111" stroke-width="0.8" />
<text x="486" y="125.3" font-size="8.4" text-anchor="middle" font-weight="normal" >p&lt;0.0001</text>
<text x="466" y="207" font-size="7.9" text-anchor="middle" font-weight="normal" >Control</text>
<text x="501.5" y="207" font-size="7.9" text-anchor="middle" font-weight="normal" >IL12Rβ1</text>
<circle cx="465.9" cy="132.0" r="1.75" fill="#1a10aa"/>
<circle cx="461.6" cy="134.3" r="1.75" fill="#1a10aa"/>
<circle cx="465.9" cy="138.1" r="1.75" fill="#1a10aa"/>
<circle cx="470.2" cy="138.1" r="1.75" fill="#1a10aa"/>
<circle cx="463.5" cy="146.1" r="1.75" fill="#1a10aa"/>
<circle cx="467.8" cy="146.8" r="1.75" fill="#1a10aa"/>
<circle cx="467.8" cy="150.6" r="1.75" fill="#1a10aa"/>
<circle cx="463.5" cy="153.2" r="1.75" fill="#1a10aa"/>
<circle cx="457.2" cy="155.0" r="1.75" fill="#1a10aa"/>
<circle cx="474.6" cy="154.0" r="1.75" fill="#1a10aa"/>
<circle cx="461.6" cy="156.4" r="1.75" fill="#1a10aa"/>
<circle cx="465.9" cy="157.9" r="1.75" fill="#1a10aa"/>
<circle cx="470.2" cy="156.4" r="1.75" fill="#1a10aa"/>
<circle cx="461.6" cy="161.6" r="1.75" fill="#1a10aa"/>
<circle cx="470.2" cy="161.7" r="1.75" fill="#1a10aa"/>
<circle cx="465.9" cy="164.6" r="1.75" fill="#1a10aa"/>
<circle cx="461.6" cy="167.5" r="1.75" fill="#1a10aa"/>
<circle cx="470.2" cy="166.6" r="1.75" fill="#1a10aa"/>
<circle cx="465.9" cy="169.5" r="1.75" fill="#1a10aa"/>
<circle cx="468.3" cy="171.2" r="1.75" fill="#1a10aa"/>
<circle cx="463.5" cy="174.7" r="1.75" fill="#1a10aa"/>
<line x1="453.4" y1="155" x2="477.9" y2="155" stroke="#111" stroke-width="1.3" />
<circle cx="501.9" cy="136.3" r="1.65" fill="#d2672c"/>
<circle cx="499.3" cy="160.8" r="1.65" fill="#d2672c"/>
<circle cx="504.2" cy="162.7" r="1.65" fill="#d2672c"/>
<circle cx="501.8" cy="174.2" r="1.65" fill="#d2672c"/>
<circle cx="497.2" cy="177.1" r="1.65" fill="#d2672c"/>
<circle cx="506.3" cy="177.1" r="1.65" fill="#d2672c"/>
<circle cx="501.8" cy="180.2" r="1.65" fill="#d2672c"/>
<circle cx="504.0" cy="182.0" r="1.65" fill="#d2672c"/>
<circle cx="499.5" cy="184.1" r="1.65" fill="#d2672c"/>
<circle cx="499.5" cy="188.1" r="1.65" fill="#d2672c"/>
<circle cx="504.0" cy="189.0" r="1.65" fill="#d2672c"/>
<circle cx="497.2" cy="193.8" r="1.65" fill="#d2672c"/>
<circle cx="506.3" cy="193.8" r="1.65" fill="#d2672c"/>
<circle cx="501.8" cy="197.4" r="1.65" fill="#d2672c"/>
<line x1="489.4" y1="178.2" x2="514.4" y2="178.2" stroke="#111" stroke-width="1.3" />
<text x="0" y="252.3" font-size="10.5" text-anchor="start" font-weight="bold"  style="stroke-width:0.25px">F</text>
<line x1="40.5" y1="252.9" x2="40.5" y2="325.6" stroke="#74747e" stroke-width="1.4" />
<line x1="38.3" y1="252.9" x2="40.5" y2="252.9" stroke="#74747e" stroke-width="1.2" />
<text x="37.9" y="255.85" font-size="8.2" text-anchor="end" font-weight="normal" >30</text>
<line x1="38.3" y1="277" x2="40.5" y2="277" stroke="#74747e" stroke-width="1.2" />
<text x="37.9" y="279.95" font-size="8.2" text-anchor="end" font-weight="normal" >20</text>
<line x1="38.3" y1="301.3" x2="40.5" y2="301.3" stroke="#74747e" stroke-width="1.2" />
<text x="37.9" y="304.25" font-size="8.2" text-anchor="end" font-weight="normal" >10</text>
<line x1="38.3" y1="325.5" x2="40.5" y2="325.5" stroke="#74747e" stroke-width="1.2" />
<text x="37.9" y="328.45" font-size="8.2" text-anchor="end" font-weight="normal" >0</text>
<line x1="40.5" y1="325.6" x2="147" y2="325.6" stroke="#606068" stroke-width="1.2" />
<line x1="54.2" y1="325.6" x2="54.2" y2="327.40000000000003" stroke="#74747e" stroke-width="1" />
<line x1="80.5" y1="325.6" x2="80.5" y2="327.40000000000003" stroke="#74747e" stroke-width="1" />
<line x1="106.9" y1="325.6" x2="106.9" y2="327.40000000000003" stroke="#74747e" stroke-width="1" />
<line x1="133.5" y1="325.6" x2="133.5" y2="327.40000000000003" stroke="#74747e" stroke-width="1" />
<text transform="translate(13.8,289) rotate(-90)" font-size="7.9" text-anchor="middle" font-weight="normal">CXCR5<tspan font-size="65%" baseline-shift="45%">+</tspan></text>
<text transform="translate(23.6,292) rotate(-90)" font-size="7.9" text-anchor="middle" font-weight="normal">in memory CD4<tspan font-size="65%" baseline-shift="45%">+</tspan> T (%)</text>
<text x="54" y="335.6" font-size="7.9" text-anchor="middle" font-weight="normal" >Control</text>
<text x="80.8" y="335.4" font-size="8.3" text-anchor="middle" font-weight="normal" >NV</text>
<text x="106.8" y="335.4" font-size="8.3" text-anchor="middle" font-weight="normal" >R</text>
<text x="133.1" y="335.4" font-size="8.3" text-anchor="middle" font-weight="normal" >D</text>
<line x1="73.1" y1="339.8" x2="141.2" y2="339.8" stroke="#111" stroke-width="0.9" />
<text x="105.8" y="350.9" font-size="8.3" text-anchor="middle" font-weight="normal" >IL12Rβ1</text>
<circle cx="54.0" cy="259.2" r="1.75" fill="#1a10aa"/>
<circle cx="47.2" cy="261.6" r="1.75" fill="#1a10aa"/>
<circle cx="60.2" cy="261.2" r="1.75" fill="#1a10aa"/>
<circle cx="51.6" cy="266.0" r="1.75" fill="#1a10aa"/>
<circle cx="55.9" cy="265.5" r="1.75" fill="#1a10aa"/>
<circle cx="60.2" cy="266.9" r="1.75" fill="#1a10aa"/>
<circle cx="47.1" cy="269.7" r="1.75" fill="#1a10aa"/>
<circle cx="50.8" cy="271.1" r="1.75" fill="#1a10aa"/>
<circle cx="54.2" cy="271.1" r="1.75" fill="#1a10aa"/>
<circle cx="57.3" cy="271.1" r="1.75" fill="#1a10aa"/>
<circle cx="60.4" cy="268.5" r="1.75" fill="#1a10aa"/>
<circle cx="46.4" cy="274.5" r="1.75" fill="#1a10aa"/>
<circle cx="49.1" cy="275.8" r="1.75" fill="#1a10aa"/>
<circle cx="51.9" cy="276.8" r="1.75" fill="#1a10aa"/>
<circle cx="54.6" cy="278.2" r="1.75" fill="#1a10aa"/>
<circle cx="57.3" cy="276.8" r="1.75" fill="#1a10aa"/>
<circle cx="59.7" cy="275.5" r="1.75" fill="#1a10aa"/>
<circle cx="61.4" cy="274.1" r="1.75" fill="#1a10aa"/>
<circle cx="47.4" cy="277.5" r="1.75" fill="#1a10aa"/>
<circle cx="50.2" cy="278.2" r="1.75" fill="#1a10aa"/>
<circle cx="57.6" cy="278.2" r="1.75" fill="#1a10aa"/>
<circle cx="60.0" cy="277.5" r="1.75" fill="#1a10aa"/>
<circle cx="46.4" cy="281.3" r="1.75" fill="#1a10aa"/>
<circle cx="49.1" cy="282.6" r="1.75" fill="#1a10aa"/>
<circle cx="51.9" cy="283.6" r="1.75" fill="#1a10aa"/>
<circle cx="54.6" cy="284.3" r="1.75" fill="#1a10aa"/>
<circle cx="57.3" cy="283.6" r="1.75" fill="#1a10aa"/>
<circle cx="59.7" cy="282.3" r="1.75" fill="#1a10aa"/>
<circle cx="61.4" cy="281.3" r="1.75" fill="#1a10aa"/>
<circle cx="47.1" cy="284.3" r="1.75" fill="#1a10aa"/>
<circle cx="49.5" cy="285.0" r="1.75" fill="#1a10aa"/>
<circle cx="58.7" cy="284.7" r="1.75" fill="#1a10aa"/>
<circle cx="61.0" cy="284.3" r="1.75" fill="#1a10aa"/>
<circle cx="46.8" cy="286.0" r="1.75" fill="#1a10aa"/>
<circle cx="50.2" cy="286.7" r="1.75" fill="#1a10aa"/>
<circle cx="53.9" cy="287.7" r="1.75" fill="#1a10aa"/>
<circle cx="57.6" cy="287.0" r="1.75" fill="#1a10aa"/>
<circle cx="60.7" cy="286.0" r="1.75" fill="#1a10aa"/>
<circle cx="46.8" cy="289.8" r="1.75" fill="#1a10aa"/>
<circle cx="49.5" cy="290.4" r="1.75" fill="#1a10aa"/>
<circle cx="58.3" cy="290.8" r="1.75" fill="#1a10aa"/>
<circle cx="61.0" cy="289.8" r="1.75" fill="#1a10aa"/>
<circle cx="47.1" cy="290.0" r="1.75" fill="#1a10aa"/>
<circle cx="50.5" cy="291.7" r="1.75" fill="#1a10aa"/>
<circle cx="53.9" cy="294.5" r="1.75" fill="#1a10aa"/>
<circle cx="57.0" cy="292.8" r="1.75" fill="#1a10aa"/>
<circle cx="60.4" cy="290.4" r="1.75" fill="#1a10aa"/>
<circle cx="46.8" cy="295.5" r="1.75" fill="#1a10aa"/>
<circle cx="49.1" cy="296.5" r="1.75" fill="#1a10aa"/>
<circle cx="51.9" cy="297.9" r="1.75" fill="#1a10aa"/>
<circle cx="54.6" cy="298.5" r="1.75" fill="#1a10aa"/>
<circle cx="57.3" cy="297.2" r="1.75" fill="#1a10aa"/>
<circle cx="60.4" cy="295.5" r="1.75" fill="#1a10aa"/>
<circle cx="46.4" cy="300.6" r="1.75" fill="#1a10aa"/>
<circle cx="49.5" cy="302.0" r="1.75" fill="#1a10aa"/>
<circle cx="52.2" cy="304.0" r="1.75" fill="#1a10aa"/>
<circle cx="55.3" cy="303.3" r="1.75" fill="#1a10aa"/>
<circle cx="58.3" cy="301.3" r="1.75" fill="#1a10aa"/>
<circle cx="61.4" cy="300.2" r="1.75" fill="#1a10aa"/>
<circle cx="51.5" cy="306.0" r="1.75" fill="#1a10aa"/>
<circle cx="56.0" cy="308.4" r="1.75" fill="#1a10aa"/>
<circle cx="54.2" cy="315.8" r="1.75" fill="#1a10aa"/>
<circle cx="75.8" cy="302.5" r="1.6" fill="#eb9438"/>
<circle cx="80.8" cy="306.0" r="1.6" fill="#eb9438"/>
<circle cx="85.0" cy="302.8" r="1.6" fill="#eb9438"/>
<circle cx="80.8" cy="312.8" r="1.6" fill="#eb9438"/>
<circle cx="80.8" cy="322.2" r="1.6" fill="#eb9438"/>
<line x1="71.6" y1="309.6" x2="90.4" y2="309.6" stroke="#ef9a3a" stroke-width="1.2" />
<circle cx="107.0" cy="263.8" r="1.7" fill="#3a1046"/>
<circle cx="104.6" cy="308.1" r="1.7" fill="#3a1046"/>
<circle cx="109.4" cy="308.1" r="1.7" fill="#3a1046"/>
<line x1="97.3" y1="293.2" x2="116.6" y2="293.2" stroke="#5a1a7a" stroke-width="1.2" />
<circle cx="131.1" cy="286.0" r="1.6" fill="#27a040"/>
<circle cx="135.9" cy="282.3" r="1.6" fill="#27a040"/>
<circle cx="133.5" cy="290.8" r="1.6" fill="#27a040"/>
<circle cx="128.7" cy="307.2" r="1.6" fill="#27a040"/>
<circle cx="133.5" cy="310.0" r="1.6" fill="#27a040"/>
<circle cx="138.3" cy="308.1" r="1.6" fill="#27a040"/>
<circle cx="128.7" cy="316.8" r="1.6" fill="#27a040"/>
<circle cx="133.5" cy="318.5" r="1.6" fill="#27a040"/>
<circle cx="137.6" cy="316.8" r="1.6" fill="#27a040"/>
<circle cx="135.9" cy="322.6" r="1.6" fill="#27a040"/>
<circle cx="131.1" cy="325.7" r="1.6" fill="#27a040"/>
<line x1="123.9" y1="308.1" x2="143.1" y2="308.1" stroke="#27a040" stroke-width="1.2" />
</g>
</svg></body></html>
